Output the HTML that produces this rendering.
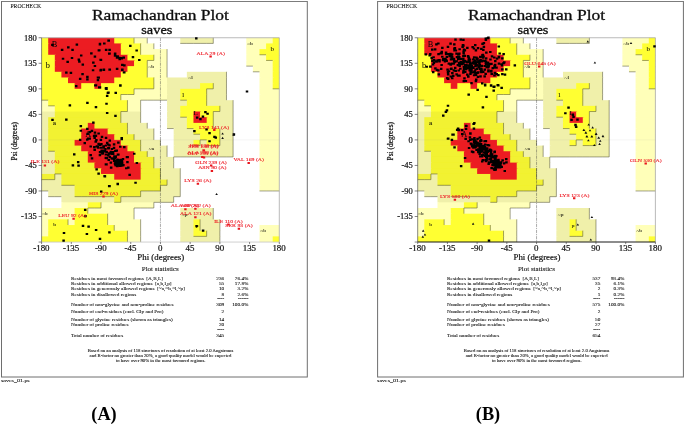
<!DOCTYPE html>
<html lang="en"><head><meta charset="utf-8"><title>Ramachandran Plot</title>
<style>
html,body{margin:0;padding:0;background:#fff}
svg{display:block}
svg text{font-family:"Liberation Serif","DejaVu Serif",serif;fill:#111;white-space:pre;stroke:#111;stroke-width:0.18px}
svg text.r{fill:#ee1c25;stroke:#ee1c25;stroke-width:0.12px}
svg text.g{fill:#0c0c06;stroke:#0c0c06;stroke-width:0.04px}
svg text.s{stroke-width:0.08px}
svg text.t{stroke-width:0.32px}
svg text.big{font-weight:bold;fill:#000;stroke:none}
</style></head><body>
<svg width="685" height="425" viewBox="0 0 685 425">
<rect width="685" height="425" fill="#fff"/>
<defs><filter id="soft" x="0" y="0" width="100%" height="100%"><feGaussianBlur stdDeviation="0.45"/></filter></defs>
<g filter="url(#soft)">
<g transform="translate(0 0)">
<rect x="1.5" y="1.4" width="305.8" height="375.6" fill="#fff" stroke="#6e6e6e" stroke-width="1.0"/>
<text transform="translate(10.4 7.8) scale(1.09 1)" font-size="5.3" class="s">PROCHECK</text>
<text transform="translate(160.4 19.9) scale(1.16 1)" font-size="15.05" text-anchor="middle" class="t">Ramachandran Plot</text>
<text transform="translate(156.8 34.2) scale(1.16 1)" font-size="12.35" text-anchor="middle" class="t">saves</text>
<rect x="41.6" y="37.75" width="7.6" height="6.68" fill="#ffff33"/>
<rect x="48.2" y="37.75" width="67.03" height="6.68" fill="#ec1c24"/>
<rect x="114.23" y="37.75" width="20.81" height="6.68" fill="#ffff33"/>
<rect x="134.04" y="37.75" width="14.21" height="6.68" fill="#ffffb9"/>
<rect x="147.24" y="37.75" width="34.01" height="6.68" fill="#ffffff"/>
<rect x="180.26" y="37.75" width="34.01" height="6.68" fill="#f0f0aa"/>
<rect x="213.27" y="37.75" width="34.01" height="6.68" fill="#ffffff"/>
<rect x="246.29" y="37.75" width="27.41" height="6.68" fill="#ffffb9"/>
<rect x="272.7" y="37.75" width="6.6" height="6.68" fill="#ffff33"/>
<rect x="41.6" y="43.42" width="7.6" height="6.68" fill="#ffff33"/>
<rect x="48.2" y="43.42" width="73.63" height="6.68" fill="#ec1c24"/>
<rect x="120.83" y="43.42" width="20.81" height="6.68" fill="#ffff33"/>
<rect x="140.64" y="43.42" width="14.21" height="6.68" fill="#ffffb9"/>
<rect x="153.85" y="43.42" width="93.44" height="6.68" fill="#ffffff"/>
<rect x="246.29" y="43.42" width="20.81" height="6.68" fill="#ffffb9"/>
<rect x="266.09" y="43.42" width="13.21" height="6.68" fill="#ffff33"/>
<rect x="41.6" y="49.1" width="7.6" height="6.68" fill="#ffff33"/>
<rect x="48.2" y="49.1" width="73.63" height="6.68" fill="#ec1c24"/>
<rect x="120.83" y="49.1" width="20.81" height="6.68" fill="#ffff33"/>
<rect x="140.64" y="49.1" width="27.41" height="6.68" fill="#ffffb9"/>
<rect x="167.05" y="49.1" width="80.23" height="6.68" fill="#ffffff"/>
<rect x="246.29" y="49.1" width="14.21" height="6.68" fill="#ffffb9"/>
<rect x="259.49" y="49.1" width="19.81" height="6.68" fill="#ffff33"/>
<rect x="41.6" y="54.78" width="14.21" height="6.68" fill="#ffff33"/>
<rect x="54.81" y="54.78" width="73.63" height="6.68" fill="#ec1c24"/>
<rect x="127.44" y="54.78" width="27.41" height="6.68" fill="#ffff33"/>
<rect x="153.85" y="54.78" width="14.21" height="6.68" fill="#ffffb9"/>
<rect x="167.05" y="54.78" width="80.23" height="6.68" fill="#ffffff"/>
<rect x="246.29" y="54.78" width="20.81" height="6.68" fill="#ffffb9"/>
<rect x="266.09" y="54.78" width="13.21" height="6.68" fill="#ffff33"/>
<rect x="41.6" y="60.45" width="14.21" height="6.68" fill="#ffff33"/>
<rect x="54.81" y="60.45" width="80.23" height="6.68" fill="#ec1c24"/>
<rect x="134.04" y="60.45" width="14.21" height="6.68" fill="#ffff33"/>
<rect x="147.24" y="60.45" width="20.81" height="6.68" fill="#ffffb9"/>
<rect x="167.05" y="60.45" width="80.23" height="6.68" fill="#ffffff"/>
<rect x="246.29" y="60.45" width="27.41" height="6.68" fill="#ffffb9"/>
<rect x="272.7" y="60.45" width="6.6" height="6.68" fill="#ffff33"/>
<rect x="41.6" y="66.12" width="14.21" height="6.68" fill="#ffff33"/>
<rect x="54.81" y="66.12" width="73.63" height="6.68" fill="#ec1c24"/>
<rect x="127.44" y="66.12" width="20.81" height="6.68" fill="#ffff33"/>
<rect x="147.24" y="66.12" width="20.81" height="6.68" fill="#ffffb9"/>
<rect x="167.05" y="66.12" width="86.84" height="6.68" fill="#ffffff"/>
<rect x="252.89" y="66.12" width="20.81" height="6.68" fill="#ffffb9"/>
<rect x="272.7" y="66.12" width="6.6" height="6.68" fill="#ffff33"/>
<rect x="41.6" y="71.8" width="20.81" height="6.68" fill="#ffff33"/>
<rect x="61.41" y="71.8" width="60.42" height="6.68" fill="#ec1c24"/>
<rect x="120.83" y="71.8" width="27.41" height="6.68" fill="#ffff33"/>
<rect x="147.24" y="71.8" width="20.81" height="6.68" fill="#ffffb9"/>
<rect x="167.05" y="71.8" width="20.81" height="6.68" fill="#ffffff"/>
<rect x="186.86" y="71.8" width="40.62" height="6.68" fill="#f0f0aa"/>
<rect x="226.48" y="71.8" width="34.01" height="6.68" fill="#ffffff"/>
<rect x="259.49" y="71.8" width="14.21" height="6.68" fill="#ffffb9"/>
<rect x="272.7" y="71.8" width="6.6" height="6.68" fill="#ffff33"/>
<rect x="41.6" y="77.48" width="27.41" height="6.68" fill="#ffff33"/>
<rect x="68.01" y="77.48" width="47.22" height="6.68" fill="#ec1c24"/>
<rect x="114.23" y="77.48" width="40.62" height="6.68" fill="#ffff33"/>
<rect x="153.85" y="77.48" width="14.21" height="6.68" fill="#ffffb9"/>
<rect x="167.05" y="77.48" width="60.42" height="6.68" fill="#f0f0aa"/>
<rect x="226.48" y="77.48" width="34.01" height="6.68" fill="#ffffff"/>
<rect x="259.49" y="77.48" width="14.21" height="6.68" fill="#ffffb9"/>
<rect x="272.7" y="77.48" width="6.6" height="6.68" fill="#ffff33"/>
<rect x="41.6" y="83.15" width="34.01" height="6.68" fill="#ffff33"/>
<rect x="74.61" y="83.15" width="7.6" height="6.68" fill="#ec1c24"/>
<rect x="81.22" y="83.15" width="14.21" height="6.68" fill="#ffff33"/>
<rect x="94.42" y="83.15" width="7.6" height="6.68" fill="#ec1c24"/>
<rect x="101.03" y="83.15" width="53.82" height="6.68" fill="#ffff33"/>
<rect x="153.85" y="83.15" width="14.21" height="6.68" fill="#ffffb9"/>
<rect x="167.05" y="83.15" width="34.01" height="6.68" fill="#f0f0aa"/>
<rect x="200.07" y="83.15" width="14.21" height="6.68" fill="#ffff33"/>
<rect x="213.27" y="83.15" width="14.21" height="6.68" fill="#f0f0aa"/>
<rect x="226.48" y="83.15" width="34.01" height="6.68" fill="#ffffff"/>
<rect x="259.49" y="83.15" width="14.21" height="6.68" fill="#ffffb9"/>
<rect x="272.7" y="83.15" width="6.6" height="6.68" fill="#ffff33"/>
<rect x="41.6" y="88.83" width="93.44" height="6.68" fill="#ffff33"/>
<rect x="134.04" y="88.83" width="34.01" height="6.68" fill="#ffffb9"/>
<rect x="167.05" y="88.83" width="14.21" height="6.68" fill="#f0f0aa"/>
<rect x="180.26" y="88.83" width="27.41" height="6.68" fill="#ffff33"/>
<rect x="206.67" y="88.83" width="20.81" height="6.68" fill="#f0f0aa"/>
<rect x="226.48" y="88.83" width="34.01" height="6.68" fill="#ffffff"/>
<rect x="259.49" y="88.83" width="19.81" height="6.68" fill="#ffffb9"/>
<rect x="41.6" y="94.5" width="80.23" height="6.68" fill="#ffff33"/>
<rect x="120.83" y="94.5" width="47.22" height="6.68" fill="#ffffb9"/>
<rect x="167.05" y="94.5" width="14.21" height="6.68" fill="#f0f0aa"/>
<rect x="180.26" y="94.5" width="27.41" height="6.68" fill="#ffff33"/>
<rect x="206.67" y="94.5" width="20.81" height="6.68" fill="#f0f0aa"/>
<rect x="226.48" y="94.5" width="34.01" height="6.68" fill="#ffffff"/>
<rect x="259.49" y="94.5" width="19.81" height="6.68" fill="#ffffb9"/>
<rect x="41.6" y="100.18" width="7.6" height="6.68" fill="#ffffb9"/>
<rect x="48.2" y="100.18" width="80.23" height="6.68" fill="#ffff33"/>
<rect x="127.44" y="100.18" width="14.21" height="6.68" fill="#ffffb9"/>
<rect x="140.64" y="100.18" width="27.41" height="6.68" fill="#ffffff"/>
<rect x="167.05" y="100.18" width="20.81" height="6.68" fill="#f0f0aa"/>
<rect x="186.86" y="100.18" width="20.81" height="6.68" fill="#ffff33"/>
<rect x="206.67" y="100.18" width="27.41" height="6.68" fill="#f0f0aa"/>
<rect x="233.08" y="100.18" width="27.41" height="6.68" fill="#ffffff"/>
<rect x="259.49" y="100.18" width="19.81" height="6.68" fill="#ffffb9"/>
<rect x="41.6" y="105.85" width="14.21" height="6.68" fill="#ffffb9"/>
<rect x="54.81" y="105.85" width="73.63" height="6.68" fill="#ffff33"/>
<rect x="127.44" y="105.85" width="14.21" height="6.68" fill="#ffffb9"/>
<rect x="140.64" y="105.85" width="27.41" height="6.68" fill="#ffffff"/>
<rect x="167.05" y="105.85" width="14.21" height="6.68" fill="#f0f0aa"/>
<rect x="180.26" y="105.85" width="40.62" height="6.68" fill="#ffff33"/>
<rect x="219.88" y="105.85" width="14.21" height="6.68" fill="#f0f0aa"/>
<rect x="233.08" y="105.85" width="27.41" height="6.68" fill="#ffffff"/>
<rect x="259.49" y="105.85" width="19.81" height="6.68" fill="#ffffb9"/>
<rect x="41.6" y="111.53" width="14.21" height="6.68" fill="#f0f0aa"/>
<rect x="54.81" y="111.53" width="67.03" height="6.68" fill="#f2f230"/>
<rect x="120.83" y="111.53" width="20.81" height="6.68" fill="#f0f0aa"/>
<rect x="140.64" y="111.53" width="27.41" height="6.68" fill="#ffffff"/>
<rect x="167.05" y="111.53" width="14.21" height="6.68" fill="#f0f0aa"/>
<rect x="180.26" y="111.53" width="14.21" height="6.68" fill="#ffff33"/>
<rect x="193.46" y="111.53" width="7.6" height="6.68" fill="#ec1c24"/>
<rect x="200.07" y="111.53" width="14.21" height="6.68" fill="#ffff33"/>
<rect x="213.27" y="111.53" width="20.81" height="6.68" fill="#f0f0aa"/>
<rect x="233.08" y="111.53" width="27.41" height="6.68" fill="#ffffff"/>
<rect x="259.49" y="111.53" width="19.81" height="6.68" fill="#ffffb9"/>
<rect x="41.6" y="117.2" width="7.6" height="6.68" fill="#f0f0aa"/>
<rect x="48.2" y="117.2" width="73.63" height="6.68" fill="#f2f230"/>
<rect x="120.83" y="117.2" width="20.81" height="6.68" fill="#f0f0aa"/>
<rect x="140.64" y="117.2" width="27.41" height="6.68" fill="#ffffff"/>
<rect x="167.05" y="117.2" width="20.81" height="6.68" fill="#f0f0aa"/>
<rect x="186.86" y="117.2" width="7.6" height="6.68" fill="#ffff33"/>
<rect x="193.46" y="117.2" width="14.21" height="6.68" fill="#ec1c24"/>
<rect x="206.67" y="117.2" width="7.6" height="6.68" fill="#ffff33"/>
<rect x="213.27" y="117.2" width="20.81" height="6.68" fill="#f0f0aa"/>
<rect x="233.08" y="117.2" width="27.41" height="6.68" fill="#ffffff"/>
<rect x="259.49" y="117.2" width="19.81" height="6.68" fill="#ffffb9"/>
<rect x="41.6" y="122.88" width="7.6" height="6.68" fill="#f0f0aa"/>
<rect x="48.2" y="122.88" width="40.62" height="6.68" fill="#f2f230"/>
<rect x="87.82" y="122.88" width="7.6" height="6.68" fill="#ec1c24"/>
<rect x="94.42" y="122.88" width="34.01" height="6.68" fill="#f2f230"/>
<rect x="127.44" y="122.88" width="20.81" height="6.68" fill="#f0f0aa"/>
<rect x="147.24" y="122.88" width="20.81" height="6.68" fill="#ffffff"/>
<rect x="167.05" y="122.88" width="20.81" height="6.68" fill="#f0f0aa"/>
<rect x="186.86" y="122.88" width="27.41" height="6.68" fill="#ffff33"/>
<rect x="213.27" y="122.88" width="20.81" height="6.68" fill="#f0f0aa"/>
<rect x="233.08" y="122.88" width="27.41" height="6.68" fill="#ffffff"/>
<rect x="259.49" y="122.88" width="19.81" height="6.68" fill="#ffffb9"/>
<rect x="41.6" y="128.55" width="7.6" height="6.68" fill="#f0f0aa"/>
<rect x="48.2" y="128.55" width="34.01" height="6.68" fill="#f2f230"/>
<rect x="81.22" y="128.55" width="27.41" height="6.68" fill="#ec1c24"/>
<rect x="107.63" y="128.55" width="20.81" height="6.68" fill="#f2f230"/>
<rect x="127.44" y="128.55" width="27.41" height="6.68" fill="#f0f0aa"/>
<rect x="153.85" y="128.55" width="20.81" height="6.68" fill="#ffffff"/>
<rect x="173.66" y="128.55" width="20.81" height="6.68" fill="#f0f0aa"/>
<rect x="193.46" y="128.55" width="27.41" height="6.68" fill="#ffff33"/>
<rect x="219.88" y="128.55" width="14.21" height="6.68" fill="#f0f0aa"/>
<rect x="233.08" y="128.55" width="27.41" height="6.68" fill="#ffffff"/>
<rect x="259.49" y="128.55" width="19.81" height="6.68" fill="#ffffb9"/>
<rect x="41.6" y="134.23" width="7.6" height="6.68" fill="#f0f0aa"/>
<rect x="48.2" y="134.23" width="34.01" height="6.68" fill="#f2f230"/>
<rect x="81.22" y="134.23" width="34.01" height="6.68" fill="#ec1c24"/>
<rect x="114.23" y="134.23" width="20.81" height="6.68" fill="#f2f230"/>
<rect x="134.04" y="134.23" width="20.81" height="6.68" fill="#f0f0aa"/>
<rect x="153.85" y="134.23" width="20.81" height="6.68" fill="#ffffff"/>
<rect x="173.66" y="134.23" width="27.41" height="6.68" fill="#f0f0aa"/>
<rect x="200.07" y="134.23" width="20.81" height="6.68" fill="#ffff33"/>
<rect x="219.88" y="134.23" width="14.21" height="6.68" fill="#f0f0aa"/>
<rect x="233.08" y="134.23" width="27.41" height="6.68" fill="#ffffff"/>
<rect x="259.49" y="134.23" width="19.81" height="6.68" fill="#ffffb9"/>
<rect x="41.6" y="139.9" width="7.6" height="6.68" fill="#f0f0aa"/>
<rect x="48.2" y="139.9" width="27.41" height="6.68" fill="#f2f230"/>
<rect x="74.61" y="139.9" width="47.22" height="6.68" fill="#ec1c24"/>
<rect x="120.83" y="139.9" width="20.81" height="6.68" fill="#f2f230"/>
<rect x="140.64" y="139.9" width="20.81" height="6.68" fill="#f0f0aa"/>
<rect x="160.45" y="139.9" width="14.21" height="6.68" fill="#ffffff"/>
<rect x="173.66" y="139.9" width="20.81" height="6.68" fill="#f0f0aa"/>
<rect x="193.46" y="139.9" width="7.6" height="6.68" fill="#ffff33"/>
<rect x="200.07" y="139.9" width="7.6" height="6.68" fill="#f0f0aa"/>
<rect x="206.67" y="139.9" width="14.21" height="6.68" fill="#ffff33"/>
<rect x="219.88" y="139.9" width="14.21" height="6.68" fill="#f0f0aa"/>
<rect x="233.08" y="139.9" width="27.41" height="6.68" fill="#ffffff"/>
<rect x="259.49" y="139.9" width="19.81" height="6.68" fill="#ffffb9"/>
<rect x="41.6" y="145.58" width="7.6" height="6.68" fill="#f0f0aa"/>
<rect x="48.2" y="145.58" width="34.01" height="6.68" fill="#f2f230"/>
<rect x="81.22" y="145.58" width="47.22" height="6.68" fill="#ec1c24"/>
<rect x="127.44" y="145.58" width="14.21" height="6.68" fill="#f2f230"/>
<rect x="140.64" y="145.58" width="27.41" height="6.68" fill="#f0f0aa"/>
<rect x="167.05" y="145.58" width="7.6" height="6.68" fill="#ffffff"/>
<rect x="173.66" y="145.58" width="60.42" height="6.68" fill="#f0f0aa"/>
<rect x="233.08" y="145.58" width="27.41" height="6.68" fill="#ffffff"/>
<rect x="259.49" y="145.58" width="19.81" height="6.68" fill="#ffffb9"/>
<rect x="41.6" y="151.25" width="14.21" height="6.68" fill="#f0f0aa"/>
<rect x="54.81" y="151.25" width="34.01" height="6.68" fill="#f2f230"/>
<rect x="87.82" y="151.25" width="47.22" height="6.68" fill="#ec1c24"/>
<rect x="134.04" y="151.25" width="14.21" height="6.68" fill="#f2f230"/>
<rect x="147.24" y="151.25" width="20.81" height="6.68" fill="#f0f0aa"/>
<rect x="167.05" y="151.25" width="7.6" height="6.68" fill="#ffffff"/>
<rect x="173.66" y="151.25" width="60.42" height="6.68" fill="#f0f0aa"/>
<rect x="233.08" y="151.25" width="27.41" height="6.68" fill="#ffffff"/>
<rect x="259.49" y="151.25" width="19.81" height="6.68" fill="#ffffb9"/>
<rect x="41.6" y="156.93" width="14.21" height="6.68" fill="#f0f0aa"/>
<rect x="54.81" y="156.93" width="34.01" height="6.68" fill="#f2f230"/>
<rect x="87.82" y="156.93" width="47.22" height="6.68" fill="#ec1c24"/>
<rect x="134.04" y="156.93" width="20.81" height="6.68" fill="#f2f230"/>
<rect x="153.85" y="156.93" width="20.81" height="6.68" fill="#f0f0aa"/>
<rect x="173.66" y="156.93" width="86.84" height="6.68" fill="#ffffff"/>
<rect x="259.49" y="156.93" width="19.81" height="6.68" fill="#ffffb9"/>
<rect x="41.6" y="162.6" width="14.21" height="6.68" fill="#f0f0aa"/>
<rect x="54.81" y="162.6" width="40.62" height="6.68" fill="#f2f230"/>
<rect x="94.42" y="162.6" width="47.22" height="6.68" fill="#ec1c24"/>
<rect x="140.64" y="162.6" width="14.21" height="6.68" fill="#f2f230"/>
<rect x="153.85" y="162.6" width="20.81" height="6.68" fill="#f0f0aa"/>
<rect x="173.66" y="162.6" width="86.84" height="6.68" fill="#ffffff"/>
<rect x="259.49" y="162.6" width="19.81" height="6.68" fill="#ffffb9"/>
<rect x="41.6" y="168.28" width="14.21" height="6.68" fill="#f0f0aa"/>
<rect x="54.81" y="168.28" width="47.22" height="6.68" fill="#f2f230"/>
<rect x="101.03" y="168.28" width="40.62" height="6.68" fill="#ec1c24"/>
<rect x="140.64" y="168.28" width="20.81" height="6.68" fill="#f2f230"/>
<rect x="160.45" y="168.28" width="20.81" height="6.68" fill="#f0f0aa"/>
<rect x="180.26" y="168.28" width="80.23" height="6.68" fill="#ffffff"/>
<rect x="259.49" y="168.28" width="19.81" height="6.68" fill="#ffffb9"/>
<rect x="41.6" y="173.95" width="14.21" height="6.68" fill="#f2f230"/>
<rect x="54.81" y="173.95" width="7.6" height="6.68" fill="#f0f0aa"/>
<rect x="61.41" y="173.95" width="53.82" height="6.68" fill="#f2f230"/>
<rect x="114.23" y="173.95" width="27.41" height="6.68" fill="#ec1c24"/>
<rect x="140.64" y="173.95" width="20.81" height="6.68" fill="#f2f230"/>
<rect x="160.45" y="173.95" width="20.81" height="6.68" fill="#f0f0aa"/>
<rect x="180.26" y="173.95" width="80.23" height="6.68" fill="#ffffff"/>
<rect x="259.49" y="173.95" width="19.81" height="6.68" fill="#ffffb9"/>
<rect x="41.6" y="179.63" width="20.81" height="6.68" fill="#f0f0aa"/>
<rect x="61.41" y="179.63" width="106.64" height="6.68" fill="#f2f230"/>
<rect x="167.05" y="179.63" width="14.21" height="6.68" fill="#f0f0aa"/>
<rect x="180.26" y="179.63" width="80.23" height="6.68" fill="#ffffff"/>
<rect x="259.49" y="179.63" width="19.81" height="6.68" fill="#ffffb9"/>
<rect x="41.6" y="185.3" width="34.01" height="6.68" fill="#f0f0aa"/>
<rect x="74.61" y="185.3" width="86.84" height="6.68" fill="#f2f230"/>
<rect x="160.45" y="185.3" width="20.81" height="6.68" fill="#f0f0aa"/>
<rect x="180.26" y="185.3" width="80.23" height="6.68" fill="#ffffff"/>
<rect x="259.49" y="185.3" width="19.81" height="6.68" fill="#ffffb9"/>
<rect x="41.6" y="190.98" width="7.6" height="6.68" fill="#ffffff"/>
<rect x="48.2" y="190.98" width="27.41" height="6.68" fill="#f0f0aa"/>
<rect x="74.61" y="190.98" width="67.03" height="6.68" fill="#f2f230"/>
<rect x="140.64" y="190.98" width="40.62" height="6.68" fill="#f0f0aa"/>
<rect x="180.26" y="190.98" width="99.04" height="6.68" fill="#ffffff"/>
<rect x="41.6" y="196.65" width="20.81" height="6.68" fill="#ffffff"/>
<rect x="61.41" y="196.65" width="53.82" height="6.68" fill="#f0f0aa"/>
<rect x="114.23" y="196.65" width="7.6" height="6.68" fill="#f2f230"/>
<rect x="120.83" y="196.65" width="53.82" height="6.68" fill="#f0f0aa"/>
<rect x="173.66" y="196.65" width="105.64" height="6.68" fill="#ffffff"/>
<rect x="41.6" y="202.33" width="20.81" height="6.68" fill="#ffffff"/>
<rect x="61.41" y="202.33" width="27.41" height="6.68" fill="#ffffb9"/>
<rect x="87.82" y="202.33" width="14.21" height="6.68" fill="#ffff33"/>
<rect x="101.03" y="202.33" width="53.82" height="6.68" fill="#ffffb9"/>
<rect x="153.85" y="202.33" width="125.45" height="6.68" fill="#ffffff"/>
<rect x="41.6" y="208" width="34.01" height="6.68" fill="#ffffb9"/>
<rect x="74.61" y="208" width="14.21" height="6.68" fill="#ffff33"/>
<rect x="87.82" y="208" width="47.22" height="6.68" fill="#ffffb9"/>
<rect x="134.04" y="208" width="47.22" height="6.68" fill="#ffffff"/>
<rect x="180.26" y="208" width="34.01" height="6.68" fill="#f0f0aa"/>
<rect x="213.27" y="208" width="66.03" height="6.68" fill="#ffffff"/>
<rect x="41.6" y="213.68" width="34.01" height="6.68" fill="#ffffb9"/>
<rect x="74.61" y="213.68" width="34.01" height="6.68" fill="#ffff33"/>
<rect x="107.63" y="213.68" width="27.41" height="6.68" fill="#ffffb9"/>
<rect x="134.04" y="213.68" width="47.22" height="6.68" fill="#ffffff"/>
<rect x="180.26" y="213.68" width="34.01" height="6.68" fill="#f0f0aa"/>
<rect x="213.27" y="213.68" width="66.03" height="6.68" fill="#ffffff"/>
<rect x="41.6" y="219.35" width="7.6" height="6.68" fill="#ffffb9"/>
<rect x="48.2" y="219.35" width="20.81" height="6.68" fill="#ffff33"/>
<rect x="68.01" y="219.35" width="7.6" height="6.68" fill="#ffffb9"/>
<rect x="74.61" y="219.35" width="34.01" height="6.68" fill="#ffff33"/>
<rect x="107.63" y="219.35" width="34.01" height="6.68" fill="#ffffb9"/>
<rect x="140.64" y="219.35" width="40.62" height="6.68" fill="#ffffff"/>
<rect x="180.26" y="219.35" width="14.21" height="6.68" fill="#f0f0aa"/>
<rect x="193.46" y="219.35" width="7.6" height="6.68" fill="#ffff33"/>
<rect x="200.07" y="219.35" width="20.81" height="6.68" fill="#f0f0aa"/>
<rect x="219.88" y="219.35" width="59.42" height="6.68" fill="#ffffff"/>
<rect x="41.6" y="225.03" width="7.6" height="6.68" fill="#ffffb9"/>
<rect x="48.2" y="225.03" width="67.03" height="6.68" fill="#ffff33"/>
<rect x="114.23" y="225.03" width="27.41" height="6.68" fill="#ffffb9"/>
<rect x="140.64" y="225.03" width="40.62" height="6.68" fill="#ffffff"/>
<rect x="180.26" y="225.03" width="14.21" height="6.68" fill="#f0f0aa"/>
<rect x="193.46" y="225.03" width="7.6" height="6.68" fill="#ffff33"/>
<rect x="200.07" y="225.03" width="20.81" height="6.68" fill="#f0f0aa"/>
<rect x="219.88" y="225.03" width="40.62" height="6.68" fill="#ffffff"/>
<rect x="259.49" y="225.03" width="19.81" height="6.68" fill="#ffffb9"/>
<rect x="41.6" y="230.7" width="7.6" height="6.68" fill="#ffffb9"/>
<rect x="48.2" y="230.7" width="80.23" height="6.68" fill="#ffff33"/>
<rect x="127.44" y="230.7" width="14.21" height="6.68" fill="#ffffb9"/>
<rect x="140.64" y="230.7" width="40.62" height="6.68" fill="#ffffff"/>
<rect x="180.26" y="230.7" width="14.21" height="6.68" fill="#f0f0aa"/>
<rect x="193.46" y="230.7" width="14.21" height="6.68" fill="#ffff33"/>
<rect x="206.67" y="230.7" width="14.21" height="6.68" fill="#f0f0aa"/>
<rect x="219.88" y="230.7" width="40.62" height="6.68" fill="#ffffff"/>
<rect x="259.49" y="230.7" width="19.81" height="6.68" fill="#ffffb9"/>
<rect x="41.6" y="236.38" width="86.84" height="5.68" fill="#ffff33"/>
<rect x="127.44" y="236.38" width="14.21" height="5.68" fill="#ffffb9"/>
<rect x="140.64" y="236.38" width="40.62" height="5.68" fill="#ffffff"/>
<rect x="180.26" y="236.38" width="40.62" height="5.68" fill="#f0f0aa"/>
<rect x="219.88" y="236.38" width="40.62" height="5.68" fill="#ffffff"/>
<rect x="259.49" y="236.38" width="14.21" height="5.68" fill="#ffffb9"/>
<rect x="272.7" y="236.38" width="6.6" height="5.68" fill="#ffff33"/>
<path d="M134.04 37.75v5.68M147.24 37.75v5.68M213.27 37.75v5.68M140.64 43.42v5.68M153.85 43.42v5.68M140.64 49.1v5.68M167.05 49.1v5.68M153.85 54.78v5.68M167.05 54.78v5.68M147.24 60.45v5.68M167.05 60.45v5.68M147.24 66.12v5.68M167.05 66.12v5.68M147.24 71.8v5.68M167.05 71.8v5.68M226.48 71.8v5.68M153.85 77.48v5.68M226.48 77.48v5.68M153.85 83.15v5.68M213.27 83.15v5.68M226.48 83.15v5.68M134.04 88.83v5.68M206.67 88.83v5.68M226.48 88.83v5.68M120.83 94.5v5.68M206.67 94.5v5.68M226.48 94.5v5.68M127.44 100.18v5.68M140.64 100.18v5.68M206.67 100.18v5.68M233.08 100.18v5.68M127.44 105.85v5.68M140.64 105.85v5.68M219.88 105.85v5.68M233.08 105.85v5.68M120.83 111.53v5.68M140.64 111.53v5.68M213.27 111.53v5.68M233.08 111.53v5.68M120.83 117.2v5.68M140.64 117.2v5.68M213.27 117.2v5.68M233.08 117.2v5.68M127.44 122.88v5.68M147.24 122.88v5.68M213.27 122.88v5.68M233.08 122.88v5.68M127.44 128.55v5.68M153.85 128.55v5.68M219.88 128.55v5.68M233.08 128.55v5.68M134.04 134.23v5.68M153.85 134.23v5.68M219.88 134.23v5.68M233.08 134.23v5.68M140.64 139.9v5.68M160.45 139.9v5.68M200.07 139.9v5.68M219.88 139.9v5.68M233.08 139.9v5.68M140.64 145.58v5.68M167.05 145.58v5.68M233.08 145.58v5.68M147.24 151.25v5.68M167.05 151.25v5.68M233.08 151.25v5.68M153.85 156.93v5.68M173.66 156.93v5.68M153.85 162.6v5.68M173.66 162.6v5.68M160.45 168.28v5.68M180.26 168.28v5.68M54.81 173.95v5.68M160.45 173.95v5.68M180.26 173.95v5.68M167.05 179.63v5.68M180.26 179.63v5.68M160.45 185.3v5.68M180.26 185.3v5.68M140.64 190.98v5.68M180.26 190.98v5.68M120.83 196.65v5.68M173.66 196.65v5.68M101.03 202.33v5.68M153.85 202.33v5.68M87.82 208v5.68M134.04 208v5.68M213.27 208v5.68M107.63 213.68v5.68M134.04 213.68v5.68M213.27 213.68v5.68M68.01 219.35v5.68M107.63 219.35v5.68M140.64 219.35v5.68M200.07 219.35v5.68M219.88 219.35v5.68M114.23 225.03v5.68M140.64 225.03v5.68M200.07 225.03v5.68M219.88 225.03v5.68M127.44 230.7v5.68M140.64 230.7v5.68M206.67 230.7v5.68M219.88 230.7v5.68M127.44 236.38v5.68M140.64 236.38v5.68M219.88 236.38v5.68M180.26 43.42h6.6M186.86 43.42h6.6M193.46 43.42h6.6M200.07 43.42h6.6M206.67 43.42h6.6M259.49 54.78h6.6M147.24 60.45h6.6M266.09 60.45h6.6M246.29 66.12h6.6M252.89 71.8h6.6M134.04 88.83h6.6M140.64 88.83h6.6M147.24 88.83h6.6M206.67 88.83h6.6M272.7 88.83h6.6M120.83 94.5h6.6M127.44 94.5h6.6M41.6 100.18h6.6M140.64 100.18h6.6M147.24 100.18h6.6M153.85 100.18h6.6M160.45 100.18h6.6M180.26 100.18h6.6M48.2 105.85h6.6M120.83 111.53h6.6M213.27 111.53h6.6M180.26 117.2h6.6M167.05 128.55h6.6M186.86 128.55h6.6M193.46 134.23h6.6M200.07 139.9h6.6M193.46 145.58h6.6M206.67 145.58h6.6M213.27 145.58h6.6M48.2 151.25h6.6M173.66 156.93h6.6M180.26 156.93h6.6M186.86 156.93h6.6M193.46 156.93h6.6M200.07 156.93h6.6M206.67 156.93h6.6M213.27 156.93h6.6M219.88 156.93h6.6M226.48 156.93h6.6M54.81 173.95h6.6M41.6 179.63h6.6M48.2 179.63h6.6M61.41 185.3h6.6M68.01 185.3h6.6M160.45 185.3h6.6M41.6 190.98h6.6M140.64 190.98h6.6M147.24 190.98h6.6M153.85 190.98h6.6M259.49 190.98h6.6M266.09 190.98h6.6M272.7 190.98h6.6M48.2 196.65h6.6M54.81 196.65h6.6M74.61 196.65h6.6M81.22 196.65h6.6M87.82 196.65h6.6M94.42 196.65h6.6M101.03 196.65h6.6M107.63 196.65h6.6M120.83 196.65h6.6M127.44 196.65h6.6M134.04 196.65h6.6M173.66 196.65h6.6M114.23 202.33h6.6M153.85 202.33h6.6M160.45 202.33h6.6M167.05 202.33h6.6M87.82 208h6.6M94.42 208h6.6M134.04 208h6.6M140.64 208h6.6M147.24 208h6.6M193.46 236.38h6.6M200.07 236.38h6.6" stroke="#4a4a30" stroke-width="0.7" fill="none" opacity="0.75"/>
<path d="M41.6 139.9H279.3" stroke="#999" stroke-width="0.35" fill="none" opacity="0.3"/>
<path d="M160.45 37.75V242.05" stroke="#3a3a3a" stroke-width="0.5" stroke-dasharray="3.2 0.9 1.2 0.9" fill="none" opacity="0.85"/>
<path d="M41.6 37.75H279.3V242.05" stroke="#a8a8a8" stroke-width="0.8" fill="none"/>
<path d="M41.6 37.75V242.05" stroke="#555" stroke-width="0.7" fill="none"/>
<path d="M41.6 242.05H279.3" stroke="#c4c4c4" stroke-width="0.8" fill="none"/>
<path d="M41.6 242.05v2M41.6 242.05h-3M71.31 242.05v2M41.6 216.51h-3M101.03 242.05v2M41.6 190.98h-3M130.74 242.05v2M41.6 165.44h-3M160.45 242.05v2M41.6 139.9h-3M190.16 242.05v2M41.6 114.36h-3M219.88 242.05v2M41.6 88.83h-3M249.59 242.05v2M41.6 63.29h-3M279.3 242.05v2M41.6 37.75h-3" stroke="#333" stroke-width="0.6" fill="none"/>
<text transform="translate(41.4 250.5) scale(1.16 1)" font-size="7.7" text-anchor="middle">-180</text>
<text transform="translate(71.11 250.5) scale(1.16 1)" font-size="7.7" text-anchor="middle">-135</text>
<text transform="translate(100.83 250.5) scale(1.16 1)" font-size="7.7" text-anchor="middle">-90</text>
<text transform="translate(130.54 250.5) scale(1.16 1)" font-size="7.7" text-anchor="middle">-45</text>
<text transform="translate(160.25 250.5) scale(1.16 1)" font-size="7.7" text-anchor="middle">0</text>
<text transform="translate(189.96 250.5) scale(1.16 1)" font-size="7.7" text-anchor="middle">45</text>
<text transform="translate(219.68 250.5) scale(1.16 1)" font-size="7.7" text-anchor="middle">90</text>
<text transform="translate(249.39 250.5) scale(1.16 1)" font-size="7.7" text-anchor="middle">135</text>
<text transform="translate(279.1 250.5) scale(1.16 1)" font-size="7.7" text-anchor="middle">180</text>
<text transform="translate(36.7 219.31) scale(1.16 1)" font-size="7.35" text-anchor="end">-135</text>
<text transform="translate(36.7 193.78) scale(1.16 1)" font-size="7.35" text-anchor="end">-90</text>
<text transform="translate(36.7 168.24) scale(1.16 1)" font-size="7.35" text-anchor="end">-45</text>
<text transform="translate(36.7 142.7) scale(1.16 1)" font-size="7.35" text-anchor="end">0</text>
<text transform="translate(36.7 117.16) scale(1.16 1)" font-size="7.35" text-anchor="end">45</text>
<text transform="translate(36.7 91.62) scale(1.16 1)" font-size="7.35" text-anchor="end">90</text>
<text transform="translate(36.7 66.09) scale(1.16 1)" font-size="7.35" text-anchor="end">135</text>
<text transform="translate(36.7 40.55) scale(1.16 1)" font-size="7.35" text-anchor="end">180</text>
<text transform="translate(54.5 46.56) scale(1.16 1)" font-size="7.2" text-anchor="middle" class="g">B</text>
<text transform="translate(47.9 68.16) scale(1.16 1)" font-size="7.2" text-anchor="middle" class="g">b</text>
<text transform="translate(54.5 124.92) scale(1.16 1)" font-size="6.4" text-anchor="middle" class="g">a</text>
<text transform="translate(88.2 136.76) scale(1.16 1)" font-size="7.2" text-anchor="middle" class="g">A</text>
<text transform="translate(151.4 149.98) scale(1.16 1)" font-size="4.6" text-anchor="middle" class="g"><tspan dy="1.29">~</tspan><tspan dy="-1.29">a</tspan></text>
<text transform="translate(151.2 67.74) scale(1.16 1)" font-size="4.8" text-anchor="middle" class="g"><tspan dy="1.34">~</tspan><tspan dy="-1.34">b</tspan></text>
<text transform="translate(190.6 78.94) scale(1.16 1)" font-size="4.8" text-anchor="middle" class="g"><tspan dy="1.34">~</tspan><tspan dy="-1.34">l</tspan></text>
<text transform="translate(183.3 96.74) scale(1.16 1)" font-size="5.8" text-anchor="middle" class="g">l</text>
<text transform="translate(195.6 115.4) scale(1.16 1)" font-size="6" text-anchor="middle" class="g">L</text>
<text transform="translate(250 45.04) scale(1.16 1)" font-size="4.8" text-anchor="middle" class="g"><tspan dy="1.34">~</tspan><tspan dy="-1.34">b</tspan></text>
<text transform="translate(272.2 51.4) scale(1.16 1)" font-size="6" text-anchor="middle" class="g">b</text>
<text transform="translate(44.9 214.92) scale(1.16 1)" font-size="4.4" text-anchor="middle" class="g"><tspan dy="1.23">~</tspan><tspan dy="-1.23">b</tspan></text>
<text transform="translate(54.6 226.24) scale(1.16 1)" font-size="4.8" text-anchor="middle" class="g">b</text>
<text transform="translate(263.1 232.18) scale(1.16 1)" font-size="4.6" text-anchor="middle" class="g"><tspan dy="1.29">~</tspan><tspan dy="-1.29">b</tspan></text>
<text transform="translate(197.1 227.44) scale(1.16 1)" font-size="4.8" text-anchor="middle" class="g">p</text>
<text transform="translate(184.6 215.64) scale(1.16 1)" font-size="4.8" text-anchor="middle" class="g"><tspan dy="1.34">~</tspan><tspan dy="-1.34">p</tspan></text>
<path d="M75.62 43.44h2.5v2.2h-2.5zM67.05 46.34h2.5v2.2h-2.5zM60.86 48.71h2.5v2.2h-2.5zM71.27 48.71h2.5v2.2h-2.5zM98.67 43.18h2.5v2.2h-2.5zM103.02 42.39h2.5v2.2h-2.5zM107.5 39.49h2.5v2.2h-2.5zM97.62 49.24h2.5v2.2h-2.5zM104.87 48.71h2.5v2.2h-2.5zM108.29 48.71h2.5v2.2h-2.5zM90.11 52.27h2.5v2.2h-2.5zM108.29 52.4h2.5v2.2h-2.5zM79.96 54.38h2.5v2.2h-2.5zM93.67 55.56h2.5v2.2h-2.5zM61.78 57.67h2.5v2.2h-2.5zM70.74 56.88h2.5v2.2h-2.5zM66.39 60.83h2.5v2.2h-2.5zM77.59 58.59h2.5v2.2h-2.5zM78.12 60.57h2.5v2.2h-2.5zM99.73 58.72h2.5v2.2h-2.5zM81.55 63.47h2.5v2.2h-2.5zM92.09 61.62h2.5v2.2h-2.5zM93.67 64.92h2.5v2.2h-2.5zM91.82 69.13h2.5v2.2h-2.5zM99.73 68.74h2.5v2.2h-2.5zM102.63 68.47h2.5v2.2h-2.5zM108.56 68.47h2.5v2.2h-2.5zM115.8 67.81h2.5v2.2h-2.5zM65.08 71.5h2.5v2.2h-2.5zM69.69 71.77h2.5v2.2h-2.5zM81.28 73.08h2.5v2.2h-2.5zM78.91 77.7h2.5v2.2h-2.5zM86.16 78.35h2.5v2.2h-2.5zM86.16 75.72h2.5v2.2h-2.5zM96.7 76.38h2.5v2.2h-2.5zM96.7 79.01h2.5v2.2h-2.5zM74.96 84.94h2.5v2.2h-2.5zM94.06 84.28h2.5v2.2h-2.5zM98.01 86.26h2.5v2.2h-2.5zM105.26 86.92h2.5v2.2h-2.5zM119.1 84.28h2.5v2.2h-2.5zM123.05 71.37h2.5v2.2h-2.5zM121.07 68.74h2.5v2.2h-2.5zM121.07 63.86h2.5v2.2h-2.5zM123.05 64.26h2.5v2.2h-2.5zM113.83 52.66h2.5v2.2h-2.5zM115.8 56.62h2.5v2.2h-2.5zM118.44 57.93h2.5v2.2h-2.5zM122.39 56.62h2.5v2.2h-2.5zM113.83 54.64h2.5v2.2h-2.5zM116.46 55.3h2.5v2.2h-2.5zM119.75 56.88h2.5v2.2h-2.5zM107.3 39.5h2.5v2.2h-2.5zM98.73 42.79h2.5v2.2h-2.5zM103.08 42.4h2.5v2.2h-2.5zM98.07 49.13h2.5v2.2h-2.5zM104.93 48.73h2.5v2.2h-2.5zM108.36 48.73h2.5v2.2h-2.5zM129.07 44.77h2.5v2.2h-2.5zM135.4 49.39h2.5v2.2h-2.5zM107.96 52.43h2.5v2.2h-2.5zM113.9 52.43h2.5v2.2h-2.5zM131.71 55.99h2.5v2.2h-2.5zM138.04 58.89h2.5v2.2h-2.5zM99.39 58.63h2.5v2.2h-2.5zM115.88 55.33h2.5v2.2h-2.5zM117.86 56.65h2.5v2.2h-2.5zM120.5 57.31h2.5v2.2h-2.5zM122.48 56.65h2.5v2.2h-2.5zM121.16 63.9h2.5v2.2h-2.5zM123.14 64.3h2.5v2.2h-2.5zM99.39 69.18h2.5v2.2h-2.5zM102.69 68.78h2.5v2.2h-2.5zM108.36 68.52h2.5v2.2h-2.5zM115.88 67.86h2.5v2.2h-2.5zM121.16 68.52h2.5v2.2h-2.5zM122.74 71.42h2.5v2.2h-2.5zM119.18 84.35h2.5v2.2h-2.5zM97.41 76.44h2.5v2.2h-2.5zM98.73 86.33h2.5v2.2h-2.5zM104.67 87.25h2.5v2.2h-2.5zM86.16 101.74h2.5v2.2h-2.5zM68.63 104.24h2.5v2.2h-2.5zM105.26 102.66h2.5v2.2h-2.5zM94.72 106.09h2.5v2.2h-2.5zM105.92 111.89h2.5v2.2h-2.5zM114.22 114.78h2.5v2.2h-2.5zM51.24 118.74h2.5v2.2h-2.5zM65.08 118.47h2.5v2.2h-2.5zM92.09 121.5h2.5v2.2h-2.5zM79.57 125.06h2.5v2.2h-2.5zM79.57 129.67h2.5v2.2h-2.5zM74.96 84.88h2.5v2.2h-2.5zM94.72 84.22h2.5v2.2h-2.5zM98.67 86.19h2.5v2.2h-2.5zM105.26 87.91h2.5v2.2h-2.5zM107.24 91.46h2.5v2.2h-2.5zM114.48 91.86h2.5v2.2h-2.5zM105.92 94.76h2.5v2.2h-2.5zM119.1 84.48h2.5v2.2h-2.5zM106.64 91.87h2.5v2.2h-2.5zM120.5 136.99h2.5v2.2h-2.5zM72.98 153.32h2.5v2.2h-2.5zM76.93 160.96h2.5v2.2h-2.5zM71.66 164.26h2.5v2.2h-2.5zM77.33 164.52h2.5v2.2h-2.5zM95.38 168.21h2.5v2.2h-2.5zM97.36 172.43h2.5v2.2h-2.5zM103.68 175.32h2.5v2.2h-2.5zM108.29 184.94h2.5v2.2h-2.5zM116.46 182.7h2.5v2.2h-2.5zM78.91 138.83h2.5v2.2h-2.5zM83.52 142.12h2.5v2.2h-2.5zM89.45 145.42h2.5v2.2h-2.5zM89.45 153.98h2.5v2.2h-2.5zM90.77 157.27h2.5v2.2h-2.5zM93.4 148.71h2.5v2.2h-2.5zM97.36 142.78h2.5v2.2h-2.5zM101.31 152.66h2.5v2.2h-2.5zM98.67 153.98h2.5v2.2h-2.5zM105.26 163.2h2.5v2.2h-2.5zM109.87 166.5h2.5v2.2h-2.5zM108.56 139.49h2.5v2.2h-2.5zM117.12 141.46h2.5v2.2h-2.5zM120.41 137.51h2.5v2.2h-2.5zM123.05 146.08h2.5v2.2h-2.5zM125.68 155.96h2.5v2.2h-2.5zM125.02 167.16h2.5v2.2h-2.5zM120.47 138.17h2.5v2.2h-2.5zM132.98 152.66h2.5v2.2h-2.5zM135.62 161.89h2.5v2.2h-2.5zM128.37 173.74h2.5v2.2h-2.5zM134.3 181.65h2.5v2.2h-2.5zM116.51 182.97h2.5v2.2h-2.5zM107.95 184.94h2.5v2.2h-2.5zM103.34 175.06h2.5v2.2h-2.5zM126.39 155.96h2.5v2.2h-2.5zM127.05 166.5h2.5v2.2h-2.5zM104.66 163.2h2.5v2.2h-2.5zM109.93 166.5h2.5v2.2h-2.5zM51.15 43.8h2.5v2.2h-2.5zM195.05 37.3h2.5v2.2h-2.5zM245.75 90.4h2.5v2.2h-2.5zM195.35 225.1h2.5v2.2h-2.5zM201.85 229.5h2.5v2.2h-2.5zM99.95 190.5h2.5v2.2h-2.5zM83.95 208.7h2.5v2.2h-2.5zM84.25 215h2.5v2.2h-2.5zM81.75 224.7h2.5v2.2h-2.5zM87.35 225.5h2.5v2.2h-2.5zM94.85 228.9h2.5v2.2h-2.5zM85.65 232.9h2.5v2.2h-2.5zM62.75 231.9h2.5v2.2h-2.5zM62.35 239.5h2.5v2.2h-2.5zM98.75 237.7h2.5v2.2h-2.5zM108.15 231.2h2.5v2.2h-2.5zM204.16 111.02h2.5v2.2h-2.5zM206.3 112.66h2.5v2.2h-2.5zM201.69 115.46h2.5v2.2h-2.5zM195.93 116.45h2.5v2.2h-2.5zM199.22 118.1h2.5v2.2h-2.5zM193.13 129.96h2.5v2.2h-2.5zM205.31 128.31h2.5v2.2h-2.5zM208.28 131.94h2.5v2.2h-2.5zM213.22 135.72h2.5v2.2h-2.5zM214.54 136.55h2.5v2.2h-2.5zM208.28 140.17h2.5v2.2h-2.5zM232.66 133.25h2.5v2.2h-2.5zM116.96 162.76h2.5v2.2h-2.5zM117.03 161.08h2.5v2.2h-2.5zM115.41 160.74h2.5v2.2h-2.5zM120.11 163.63h2.5v2.2h-2.5zM119.93 163.21h2.5v2.2h-2.5zM118.46 162.59h2.5v2.2h-2.5zM113.72 162.38h2.5v2.2h-2.5zM118.71 163.32h2.5v2.2h-2.5zM113.66 157h2.5v2.2h-2.5zM115.5 160.25h2.5v2.2h-2.5zM118.25 162.04h2.5v2.2h-2.5zM118.75 160.98h2.5v2.2h-2.5zM118.26 162.95h2.5v2.2h-2.5zM116.03 164.93h2.5v2.2h-2.5zM118.83 164.8h2.5v2.2h-2.5zM116.12 159.9h2.5v2.2h-2.5zM116.76 161.42h2.5v2.2h-2.5zM119 162.9h2.5v2.2h-2.5zM116.52 159.58h2.5v2.2h-2.5zM116.35 164.02h2.5v2.2h-2.5zM115.69 161.78h2.5v2.2h-2.5zM118.53 159.16h2.5v2.2h-2.5zM117.66 164.63h2.5v2.2h-2.5zM112.92 159.69h2.5v2.2h-2.5zM117.31 160.13h2.5v2.2h-2.5zM118.69 162.15h2.5v2.2h-2.5zM114.18 162.48h2.5v2.2h-2.5zM119.09 164.36h2.5v2.2h-2.5zM120.86 163.76h2.5v2.2h-2.5zM117.82 159.31h2.5v2.2h-2.5zM118.97 161.11h2.5v2.2h-2.5zM116.51 158.94h2.5v2.2h-2.5zM115.32 160.06h2.5v2.2h-2.5zM120.51 158.71h2.5v2.2h-2.5zM114.2 161.27h2.5v2.2h-2.5zM120.87 164.2h2.5v2.2h-2.5zM113.18 155.25h2.5v2.2h-2.5zM118.37 160.66h2.5v2.2h-2.5zM114.97 163.05h2.5v2.2h-2.5zM120.08 163.07h2.5v2.2h-2.5zM118.12 162.98h2.5v2.2h-2.5zM121.22 164.4h2.5v2.2h-2.5zM118.74 163.43h2.5v2.2h-2.5zM113.94 163.33h2.5v2.2h-2.5zM119.75 163.73h2.5v2.2h-2.5zM113.01 159.07h2.5v2.2h-2.5zM119.49 158.82h2.5v2.2h-2.5zM117.13 163.86h2.5v2.2h-2.5zM114.53 164.21h2.5v2.2h-2.5zM118.82 162.02h2.5v2.2h-2.5zM118.3 163.49h2.5v2.2h-2.5zM117.83 164.35h2.5v2.2h-2.5zM116.03 160.54h2.5v2.2h-2.5zM119.95 162.76h2.5v2.2h-2.5zM115.52 163.17h2.5v2.2h-2.5zM120.92 162.11h2.5v2.2h-2.5zM114.38 160.56h2.5v2.2h-2.5zM117.21 161.17h2.5v2.2h-2.5zM120.78 160.87h2.5v2.2h-2.5zM120.45 160.26h2.5v2.2h-2.5zM115.74 162.6h2.5v2.2h-2.5zM120.15 164.54h2.5v2.2h-2.5zM118.34 162.46h2.5v2.2h-2.5zM117.9 163.2h2.5v2.2h-2.5zM117.14 162.34h2.5v2.2h-2.5zM118.87 162.34h2.5v2.2h-2.5zM119.31 163.65h2.5v2.2h-2.5zM122.17 164.12h2.5v2.2h-2.5zM116.57 160.8h2.5v2.2h-2.5zM117.52 163.79h2.5v2.2h-2.5zM116.78 162.44h2.5v2.2h-2.5zM121.78 158.03h2.5v2.2h-2.5zM114.97 161.54h2.5v2.2h-2.5zM118.47 162.7h2.5v2.2h-2.5zM116.56 162.92h2.5v2.2h-2.5zM107.21 147.1h2.5v2.2h-2.5zM119.73 163.63h2.5v2.2h-2.5zM100.16 143.03h2.5v2.2h-2.5zM102.35 145.26h2.5v2.2h-2.5zM86.06 127.85h2.5v2.2h-2.5zM114.12 149.77h2.5v2.2h-2.5zM100.57 149.42h2.5v2.2h-2.5zM105.5 157.02h2.5v2.2h-2.5zM92.86 134.87h2.5v2.2h-2.5zM99.59 146.63h2.5v2.2h-2.5zM119.01 145.63h2.5v2.2h-2.5zM115.48 149.43h2.5v2.2h-2.5zM112.77 146.68h2.5v2.2h-2.5zM101.58 151.72h2.5v2.2h-2.5zM102.16 146.53h2.5v2.2h-2.5zM108.92 152.46h2.5v2.2h-2.5zM98.77 151.07h2.5v2.2h-2.5zM111.92 152.73h2.5v2.2h-2.5zM126.21 161.01h2.5v2.2h-2.5zM110.9 151.96h2.5v2.2h-2.5zM102.67 149.93h2.5v2.2h-2.5zM103.49 150.3h2.5v2.2h-2.5zM97.36 132.41h2.5v2.2h-2.5zM110.79 147.88h2.5v2.2h-2.5zM100.75 135.75h2.5v2.2h-2.5zM110.48 157.35h2.5v2.2h-2.5zM116.72 153.48h2.5v2.2h-2.5zM107 143.38h2.5v2.2h-2.5zM104.59 156.74h2.5v2.2h-2.5zM93.09 146h2.5v2.2h-2.5zM111.16 152.7h2.5v2.2h-2.5zM85.96 138.57h2.5v2.2h-2.5zM104.79 144.42h2.5v2.2h-2.5zM105.38 150.74h2.5v2.2h-2.5zM117.13 153.38h2.5v2.2h-2.5zM107.47 158.81h2.5v2.2h-2.5zM114.42 155.68h2.5v2.2h-2.5zM95.65 145.26h2.5v2.2h-2.5zM104.2 148.02h2.5v2.2h-2.5zM114.46 155.25h2.5v2.2h-2.5zM88.79 130.93h2.5v2.2h-2.5zM88.46 137.51h2.5v2.2h-2.5zM107.7 147.05h2.5v2.2h-2.5zM101.32 149.41h2.5v2.2h-2.5zM100.53 151.51h2.5v2.2h-2.5zM100.36 149.72h2.5v2.2h-2.5zM109.6 161.47h2.5v2.2h-2.5zM96.55 145.3h2.5v2.2h-2.5zM93.71 131.49h2.5v2.2h-2.5zM86.99 137.58h2.5v2.2h-2.5zM95.17 138.94h2.5v2.2h-2.5zM102.49 145.58h2.5v2.2h-2.5zM98.95 143.82h2.5v2.2h-2.5zM116.15 158.56h2.5v2.2h-2.5zM104.62 153.41h2.5v2.2h-2.5zM105.95 141.73h2.5v2.2h-2.5zM96.81 146.65h2.5v2.2h-2.5zM93.94 134.46h2.5v2.2h-2.5zM108.54 155.83h2.5v2.2h-2.5zM101.51 149.44h2.5v2.2h-2.5zM108.26 144.32h2.5v2.2h-2.5zM94.63 134.87h2.5v2.2h-2.5zM111.81 151.09h2.5v2.2h-2.5zM99.63 138.71h2.5v2.2h-2.5zM93.37 136.69h2.5v2.2h-2.5zM94.47 140.44h2.5v2.2h-2.5zM86.32 132.73h2.5v2.2h-2.5zM104.79 136.77h2.5v2.2h-2.5zM109.6 150.71h2.5v2.2h-2.5zM90.65 129.85h2.5v2.2h-2.5zM107.09 147.35h2.5v2.2h-2.5zM107.08 154.23h2.5v2.2h-2.5zM107.48 152.19h2.5v2.2h-2.5zM111.2 157.52h2.5v2.2h-2.5zM112.83 143.36h2.5v2.2h-2.5z" fill="#000"/>
<path d="M233.7 133.6l1.3 2.1h-2.6zM222.6 132.4l1.3 2.1h-2.6zM222.6 136.8l1.3 2.1h-2.6zM216.6 193l1.3 2.1h-2.6z" fill="#111"/>
<path d="M209.4 55.5h2.4v2h-2.4zM213.1 129h2.4v2h-2.4zM202.4 149.2h2.4v2h-2.4zM202.7 149.6h2.4v2h-2.4zM201.1 156h2.4v2h-2.4zM202.8 156.4h2.4v2h-2.4zM210 164.6h2.4v2h-2.4zM210.7 170.1h2.4v2h-2.4zM247.5 161.9h2.4v2h-2.4zM196.7 182.8h2.4v2h-2.4zM43.7 164.6h2.4v2h-2.4zM102.3 195.6h2.4v2h-2.4zM72.4 217.7h2.4v2h-2.4zM184.2 208.3h2.4v2h-2.4zM194.2 207.7h2.4v2h-2.4zM194.2 216.2h2.4v2h-2.4zM227.2 223.5h2.4v2h-2.4zM237.7 227.8h2.4v2h-2.4z" fill="#e8141e"/>
<text transform="translate(210.7 54.7) scale(1.16 1)" font-size="5" text-anchor="middle" class="r">ALA 29 (A)</text>
<text transform="translate(214.1 128.7) scale(1.16 1)" font-size="5" text-anchor="middle" class="r">LYS 141 (A)</text>
<text transform="translate(204.2 147.2) scale(1.16 1)" font-size="5" text-anchor="middle" class="r">HIS 130 (A)</text>
<text transform="translate(203.3 148) scale(1.16 1)" font-size="5" text-anchor="middle" class="r">SER 136 (A)</text>
<text transform="translate(202.8 153.8) scale(1.16 1)" font-size="5" text-anchor="middle" class="r">ALA 290 (A)</text>
<text transform="translate(202.8 154.5) scale(1.16 1)" font-size="5" text-anchor="middle" class="r">GLY 291 (A)</text>
<text transform="translate(211 163.6) scale(1.16 1)" font-size="5" text-anchor="middle" class="r">GLN 239 (A)</text>
<text transform="translate(212.3 169.1) scale(1.16 1)" font-size="5" text-anchor="middle" class="r">ASN 90 (A)</text>
<text transform="translate(248.7 161) scale(1.16 1)" font-size="5" text-anchor="middle" class="r">VAL 169 (A)</text>
<text transform="translate(197.9 181.6) scale(1.16 1)" font-size="5" text-anchor="middle" class="r">LYS 26 (A)</text>
<text transform="translate(45 163.2) scale(1.16 1)" font-size="5" text-anchor="middle" class="r">ILE 131 (A)</text>
<text transform="translate(103.5 195) scale(1.16 1)" font-size="5" text-anchor="middle" class="r">HIS 279 (A)</text>
<text transform="translate(72.2 217.4) scale(1.16 1)" font-size="5" text-anchor="middle" class="r">LEU 92 (A)</text>
<text transform="translate(185 207.1) scale(1.16 1)" font-size="5" text-anchor="middle" class="r">ALA 68 (A)</text>
<text transform="translate(195.6 207.1) scale(1.16 1)" font-size="5" text-anchor="middle" class="r">ASP 262 (A)</text>
<text transform="translate(195.7 215.2) scale(1.16 1)" font-size="5" text-anchor="middle" class="r">ALA 121 (A)</text>
<text transform="translate(228.4 222.5) scale(1.16 1)" font-size="5" text-anchor="middle" class="r">ILE 110 (A)</text>
<text transform="translate(239 226.8) scale(1.16 1)" font-size="5" text-anchor="middle" class="r">SER 93 (A)</text>
<text transform="translate(16.9 141.2) scale(1.16 1) rotate(-90)" font-size="7.43" text-anchor="middle">Psi (degrees)</text>
<text transform="translate(160.8 260.3) scale(1.16 1)" font-size="7.63" text-anchor="middle">Phi (degrees)</text>
<text transform="translate(160.3 270.5) scale(1.16 1)" font-size="6.03" text-anchor="middle" class="s">Plot statistics</text>
<text transform="translate(71 280.1) scale(1.16 1)" font-size="4.55" class="s">Residues in most favoured regions  [A,B,L]</text>
<text transform="translate(224.2 280.1) scale(1.16 1)" font-size="4.55" text-anchor="end" class="s">236</text>
<text transform="translate(248.4 280.1) scale(1.16 1)" font-size="4.55" text-anchor="end" class="s">76.4%</text>
<text transform="translate(71 285.2) scale(1.16 1)" font-size="4.55" class="s">Residues in additional allowed regions  [a,b,l,p]</text>
<text transform="translate(224.2 285.2) scale(1.16 1)" font-size="4.55" text-anchor="end" class="s">55</text>
<text transform="translate(248.4 285.2) scale(1.16 1)" font-size="4.55" text-anchor="end" class="s">17.8%</text>
<text transform="translate(71 290.4) scale(1.16 1)" font-size="4.55" class="s">Residues in generously allowed regions  [~a,~b,~l,~p]</text>
<text transform="translate(224.2 290.4) scale(1.16 1)" font-size="4.55" text-anchor="end" class="s">10</text>
<text transform="translate(248.4 290.4) scale(1.16 1)" font-size="4.55" text-anchor="end" class="s">3.2%</text>
<text transform="translate(71 295.5) scale(1.16 1)" font-size="4.55" class="s">Residues in disallowed regions</text>
<text transform="translate(224.2 295.5) scale(1.16 1)" font-size="4.55" text-anchor="end" class="s">8</text>
<text transform="translate(248.4 295.5) scale(1.16 1)" font-size="4.55" text-anchor="end" class="s">2.6%</text>
<text transform="translate(224.2 299.6) scale(1.16 1)" font-size="4.55" text-anchor="end" class="s">----</text>
<text transform="translate(248.4 299.6) scale(1.16 1)" font-size="4.55" text-anchor="end" class="s">------</text>
<text transform="translate(71 306) scale(1.16 1)" font-size="4.55" class="s">Number of non-glycine and non-proline residues</text>
<text transform="translate(224.2 306) scale(1.16 1)" font-size="4.55" text-anchor="end" class="s">309</text>
<text transform="translate(248.4 306) scale(1.16 1)" font-size="4.55" text-anchor="end" class="s">100.0%</text>
<text transform="translate(71 313.1) scale(1.16 1)" font-size="4.55" class="s">Number of end-residues (excl. Gly and Pro)</text>
<text transform="translate(224.2 313.1) scale(1.16 1)" font-size="4.55" text-anchor="end" class="s">2</text>
<text transform="translate(71 320.8) scale(1.16 1)" font-size="4.55" class="s">Number of glycine residues (shown as triangles)</text>
<text transform="translate(224.2 320.8) scale(1.16 1)" font-size="4.55" text-anchor="end" class="s">14</text>
<text transform="translate(71 326) scale(1.16 1)" font-size="4.55" class="s">Number of proline residues</text>
<text transform="translate(224.2 326) scale(1.16 1)" font-size="4.55" text-anchor="end" class="s">20</text>
<text transform="translate(224.2 330.6) scale(1.16 1)" font-size="4.55" text-anchor="end" class="s">----</text>
<text transform="translate(71 336.6) scale(1.16 1)" font-size="4.55" class="s">Total number of residues</text>
<text transform="translate(224.2 336.6) scale(1.16 1)" font-size="4.55" text-anchor="end" class="s">345</text>
<text transform="translate(160.5 352.2) scale(1.16 1)" font-size="4.08" text-anchor="middle" class="s">Based on an analysis of 118 structures of resolution of at least 2.0 Angstroms</text>
<text transform="translate(160.5 357) scale(1.16 1)" font-size="4.08" text-anchor="middle" class="s">and R-factor no greater than 20%, a good quality model would be expected</text>
<text transform="translate(160.7 361.9) scale(1.16 1)" font-size="4.08" text-anchor="middle" class="s">to have over 90% in the most favoured regions.</text>
<text transform="translate(1 381.9) scale(1.3 1)" font-size="4.6" class="s">saves_01.ps</text>
</g>
<g transform="translate(376.1 0)">
<rect x="1.5" y="1.4" width="305.8" height="375.6" fill="#fff" stroke="#6e6e6e" stroke-width="1.0"/>
<text transform="translate(10.4 7.8) scale(1.09 1)" font-size="5.3" class="s">PROCHECK</text>
<text transform="translate(160.4 19.9) scale(1.16 1)" font-size="15.05" text-anchor="middle" class="t">Ramachandran Plot</text>
<text transform="translate(156.8 34.2) scale(1.16 1)" font-size="12.35" text-anchor="middle" class="t">saves</text>
<rect x="41.6" y="37.75" width="7.6" height="6.68" fill="#ffff33"/>
<rect x="48.2" y="37.75" width="67.03" height="6.68" fill="#ec1c24"/>
<rect x="114.23" y="37.75" width="20.81" height="6.68" fill="#ffff33"/>
<rect x="134.04" y="37.75" width="14.21" height="6.68" fill="#ffffb9"/>
<rect x="147.24" y="37.75" width="34.01" height="6.68" fill="#ffffff"/>
<rect x="180.26" y="37.75" width="34.01" height="6.68" fill="#f0f0aa"/>
<rect x="213.27" y="37.75" width="34.01" height="6.68" fill="#ffffff"/>
<rect x="246.29" y="37.75" width="27.41" height="6.68" fill="#ffffb9"/>
<rect x="272.7" y="37.75" width="6.6" height="6.68" fill="#ffff33"/>
<rect x="41.6" y="43.42" width="7.6" height="6.68" fill="#ffff33"/>
<rect x="48.2" y="43.42" width="73.63" height="6.68" fill="#ec1c24"/>
<rect x="120.83" y="43.42" width="20.81" height="6.68" fill="#ffff33"/>
<rect x="140.64" y="43.42" width="14.21" height="6.68" fill="#ffffb9"/>
<rect x="153.85" y="43.42" width="93.44" height="6.68" fill="#ffffff"/>
<rect x="246.29" y="43.42" width="20.81" height="6.68" fill="#ffffb9"/>
<rect x="266.09" y="43.42" width="13.21" height="6.68" fill="#ffff33"/>
<rect x="41.6" y="49.1" width="7.6" height="6.68" fill="#ffff33"/>
<rect x="48.2" y="49.1" width="73.63" height="6.68" fill="#ec1c24"/>
<rect x="120.83" y="49.1" width="20.81" height="6.68" fill="#ffff33"/>
<rect x="140.64" y="49.1" width="27.41" height="6.68" fill="#ffffb9"/>
<rect x="167.05" y="49.1" width="80.23" height="6.68" fill="#ffffff"/>
<rect x="246.29" y="49.1" width="14.21" height="6.68" fill="#ffffb9"/>
<rect x="259.49" y="49.1" width="19.81" height="6.68" fill="#ffff33"/>
<rect x="41.6" y="54.78" width="14.21" height="6.68" fill="#ffff33"/>
<rect x="54.81" y="54.78" width="73.63" height="6.68" fill="#ec1c24"/>
<rect x="127.44" y="54.78" width="27.41" height="6.68" fill="#ffff33"/>
<rect x="153.85" y="54.78" width="14.21" height="6.68" fill="#ffffb9"/>
<rect x="167.05" y="54.78" width="80.23" height="6.68" fill="#ffffff"/>
<rect x="246.29" y="54.78" width="20.81" height="6.68" fill="#ffffb9"/>
<rect x="266.09" y="54.78" width="13.21" height="6.68" fill="#ffff33"/>
<rect x="41.6" y="60.45" width="14.21" height="6.68" fill="#ffff33"/>
<rect x="54.81" y="60.45" width="80.23" height="6.68" fill="#ec1c24"/>
<rect x="134.04" y="60.45" width="14.21" height="6.68" fill="#ffff33"/>
<rect x="147.24" y="60.45" width="20.81" height="6.68" fill="#ffffb9"/>
<rect x="167.05" y="60.45" width="80.23" height="6.68" fill="#ffffff"/>
<rect x="246.29" y="60.45" width="27.41" height="6.68" fill="#ffffb9"/>
<rect x="272.7" y="60.45" width="6.6" height="6.68" fill="#ffff33"/>
<rect x="41.6" y="66.12" width="14.21" height="6.68" fill="#ffff33"/>
<rect x="54.81" y="66.12" width="73.63" height="6.68" fill="#ec1c24"/>
<rect x="127.44" y="66.12" width="20.81" height="6.68" fill="#ffff33"/>
<rect x="147.24" y="66.12" width="20.81" height="6.68" fill="#ffffb9"/>
<rect x="167.05" y="66.12" width="86.84" height="6.68" fill="#ffffff"/>
<rect x="252.89" y="66.12" width="20.81" height="6.68" fill="#ffffb9"/>
<rect x="272.7" y="66.12" width="6.6" height="6.68" fill="#ffff33"/>
<rect x="41.6" y="71.8" width="20.81" height="6.68" fill="#ffff33"/>
<rect x="61.41" y="71.8" width="60.42" height="6.68" fill="#ec1c24"/>
<rect x="120.83" y="71.8" width="27.41" height="6.68" fill="#ffff33"/>
<rect x="147.24" y="71.8" width="20.81" height="6.68" fill="#ffffb9"/>
<rect x="167.05" y="71.8" width="20.81" height="6.68" fill="#ffffff"/>
<rect x="186.86" y="71.8" width="40.62" height="6.68" fill="#f0f0aa"/>
<rect x="226.48" y="71.8" width="34.01" height="6.68" fill="#ffffff"/>
<rect x="259.49" y="71.8" width="14.21" height="6.68" fill="#ffffb9"/>
<rect x="272.7" y="71.8" width="6.6" height="6.68" fill="#ffff33"/>
<rect x="41.6" y="77.48" width="27.41" height="6.68" fill="#ffff33"/>
<rect x="68.01" y="77.48" width="47.22" height="6.68" fill="#ec1c24"/>
<rect x="114.23" y="77.48" width="40.62" height="6.68" fill="#ffff33"/>
<rect x="153.85" y="77.48" width="14.21" height="6.68" fill="#ffffb9"/>
<rect x="167.05" y="77.48" width="60.42" height="6.68" fill="#f0f0aa"/>
<rect x="226.48" y="77.48" width="34.01" height="6.68" fill="#ffffff"/>
<rect x="259.49" y="77.48" width="14.21" height="6.68" fill="#ffffb9"/>
<rect x="272.7" y="77.48" width="6.6" height="6.68" fill="#ffff33"/>
<rect x="41.6" y="83.15" width="34.01" height="6.68" fill="#ffff33"/>
<rect x="74.61" y="83.15" width="7.6" height="6.68" fill="#ec1c24"/>
<rect x="81.22" y="83.15" width="14.21" height="6.68" fill="#ffff33"/>
<rect x="94.42" y="83.15" width="7.6" height="6.68" fill="#ec1c24"/>
<rect x="101.03" y="83.15" width="53.82" height="6.68" fill="#ffff33"/>
<rect x="153.85" y="83.15" width="14.21" height="6.68" fill="#ffffb9"/>
<rect x="167.05" y="83.15" width="34.01" height="6.68" fill="#f0f0aa"/>
<rect x="200.07" y="83.15" width="14.21" height="6.68" fill="#ffff33"/>
<rect x="213.27" y="83.15" width="14.21" height="6.68" fill="#f0f0aa"/>
<rect x="226.48" y="83.15" width="34.01" height="6.68" fill="#ffffff"/>
<rect x="259.49" y="83.15" width="14.21" height="6.68" fill="#ffffb9"/>
<rect x="272.7" y="83.15" width="6.6" height="6.68" fill="#ffff33"/>
<rect x="41.6" y="88.83" width="93.44" height="6.68" fill="#ffff33"/>
<rect x="134.04" y="88.83" width="34.01" height="6.68" fill="#ffffb9"/>
<rect x="167.05" y="88.83" width="14.21" height="6.68" fill="#f0f0aa"/>
<rect x="180.26" y="88.83" width="27.41" height="6.68" fill="#ffff33"/>
<rect x="206.67" y="88.83" width="20.81" height="6.68" fill="#f0f0aa"/>
<rect x="226.48" y="88.83" width="34.01" height="6.68" fill="#ffffff"/>
<rect x="259.49" y="88.83" width="19.81" height="6.68" fill="#ffffb9"/>
<rect x="41.6" y="94.5" width="80.23" height="6.68" fill="#ffff33"/>
<rect x="120.83" y="94.5" width="47.22" height="6.68" fill="#ffffb9"/>
<rect x="167.05" y="94.5" width="14.21" height="6.68" fill="#f0f0aa"/>
<rect x="180.26" y="94.5" width="27.41" height="6.68" fill="#ffff33"/>
<rect x="206.67" y="94.5" width="20.81" height="6.68" fill="#f0f0aa"/>
<rect x="226.48" y="94.5" width="34.01" height="6.68" fill="#ffffff"/>
<rect x="259.49" y="94.5" width="19.81" height="6.68" fill="#ffffb9"/>
<rect x="41.6" y="100.18" width="7.6" height="6.68" fill="#ffffb9"/>
<rect x="48.2" y="100.18" width="80.23" height="6.68" fill="#ffff33"/>
<rect x="127.44" y="100.18" width="14.21" height="6.68" fill="#ffffb9"/>
<rect x="140.64" y="100.18" width="27.41" height="6.68" fill="#ffffff"/>
<rect x="167.05" y="100.18" width="20.81" height="6.68" fill="#f0f0aa"/>
<rect x="186.86" y="100.18" width="20.81" height="6.68" fill="#ffff33"/>
<rect x="206.67" y="100.18" width="27.41" height="6.68" fill="#f0f0aa"/>
<rect x="233.08" y="100.18" width="27.41" height="6.68" fill="#ffffff"/>
<rect x="259.49" y="100.18" width="19.81" height="6.68" fill="#ffffb9"/>
<rect x="41.6" y="105.85" width="14.21" height="6.68" fill="#ffffb9"/>
<rect x="54.81" y="105.85" width="73.63" height="6.68" fill="#ffff33"/>
<rect x="127.44" y="105.85" width="14.21" height="6.68" fill="#ffffb9"/>
<rect x="140.64" y="105.85" width="27.41" height="6.68" fill="#ffffff"/>
<rect x="167.05" y="105.85" width="14.21" height="6.68" fill="#f0f0aa"/>
<rect x="180.26" y="105.85" width="40.62" height="6.68" fill="#ffff33"/>
<rect x="219.88" y="105.85" width="14.21" height="6.68" fill="#f0f0aa"/>
<rect x="233.08" y="105.85" width="27.41" height="6.68" fill="#ffffff"/>
<rect x="259.49" y="105.85" width="19.81" height="6.68" fill="#ffffb9"/>
<rect x="41.6" y="111.53" width="14.21" height="6.68" fill="#f0f0aa"/>
<rect x="54.81" y="111.53" width="67.03" height="6.68" fill="#f2f230"/>
<rect x="120.83" y="111.53" width="20.81" height="6.68" fill="#f0f0aa"/>
<rect x="140.64" y="111.53" width="27.41" height="6.68" fill="#ffffff"/>
<rect x="167.05" y="111.53" width="14.21" height="6.68" fill="#f0f0aa"/>
<rect x="180.26" y="111.53" width="14.21" height="6.68" fill="#ffff33"/>
<rect x="193.46" y="111.53" width="7.6" height="6.68" fill="#ec1c24"/>
<rect x="200.07" y="111.53" width="14.21" height="6.68" fill="#ffff33"/>
<rect x="213.27" y="111.53" width="20.81" height="6.68" fill="#f0f0aa"/>
<rect x="233.08" y="111.53" width="27.41" height="6.68" fill="#ffffff"/>
<rect x="259.49" y="111.53" width="19.81" height="6.68" fill="#ffffb9"/>
<rect x="41.6" y="117.2" width="7.6" height="6.68" fill="#f0f0aa"/>
<rect x="48.2" y="117.2" width="73.63" height="6.68" fill="#f2f230"/>
<rect x="120.83" y="117.2" width="20.81" height="6.68" fill="#f0f0aa"/>
<rect x="140.64" y="117.2" width="27.41" height="6.68" fill="#ffffff"/>
<rect x="167.05" y="117.2" width="20.81" height="6.68" fill="#f0f0aa"/>
<rect x="186.86" y="117.2" width="7.6" height="6.68" fill="#ffff33"/>
<rect x="193.46" y="117.2" width="14.21" height="6.68" fill="#ec1c24"/>
<rect x="206.67" y="117.2" width="7.6" height="6.68" fill="#ffff33"/>
<rect x="213.27" y="117.2" width="20.81" height="6.68" fill="#f0f0aa"/>
<rect x="233.08" y="117.2" width="27.41" height="6.68" fill="#ffffff"/>
<rect x="259.49" y="117.2" width="19.81" height="6.68" fill="#ffffb9"/>
<rect x="41.6" y="122.88" width="7.6" height="6.68" fill="#f0f0aa"/>
<rect x="48.2" y="122.88" width="40.62" height="6.68" fill="#f2f230"/>
<rect x="87.82" y="122.88" width="7.6" height="6.68" fill="#ec1c24"/>
<rect x="94.42" y="122.88" width="34.01" height="6.68" fill="#f2f230"/>
<rect x="127.44" y="122.88" width="20.81" height="6.68" fill="#f0f0aa"/>
<rect x="147.24" y="122.88" width="20.81" height="6.68" fill="#ffffff"/>
<rect x="167.05" y="122.88" width="20.81" height="6.68" fill="#f0f0aa"/>
<rect x="186.86" y="122.88" width="27.41" height="6.68" fill="#ffff33"/>
<rect x="213.27" y="122.88" width="20.81" height="6.68" fill="#f0f0aa"/>
<rect x="233.08" y="122.88" width="27.41" height="6.68" fill="#ffffff"/>
<rect x="259.49" y="122.88" width="19.81" height="6.68" fill="#ffffb9"/>
<rect x="41.6" y="128.55" width="7.6" height="6.68" fill="#f0f0aa"/>
<rect x="48.2" y="128.55" width="34.01" height="6.68" fill="#f2f230"/>
<rect x="81.22" y="128.55" width="27.41" height="6.68" fill="#ec1c24"/>
<rect x="107.63" y="128.55" width="20.81" height="6.68" fill="#f2f230"/>
<rect x="127.44" y="128.55" width="27.41" height="6.68" fill="#f0f0aa"/>
<rect x="153.85" y="128.55" width="20.81" height="6.68" fill="#ffffff"/>
<rect x="173.66" y="128.55" width="20.81" height="6.68" fill="#f0f0aa"/>
<rect x="193.46" y="128.55" width="27.41" height="6.68" fill="#ffff33"/>
<rect x="219.88" y="128.55" width="14.21" height="6.68" fill="#f0f0aa"/>
<rect x="233.08" y="128.55" width="27.41" height="6.68" fill="#ffffff"/>
<rect x="259.49" y="128.55" width="19.81" height="6.68" fill="#ffffb9"/>
<rect x="41.6" y="134.23" width="7.6" height="6.68" fill="#f0f0aa"/>
<rect x="48.2" y="134.23" width="34.01" height="6.68" fill="#f2f230"/>
<rect x="81.22" y="134.23" width="34.01" height="6.68" fill="#ec1c24"/>
<rect x="114.23" y="134.23" width="20.81" height="6.68" fill="#f2f230"/>
<rect x="134.04" y="134.23" width="20.81" height="6.68" fill="#f0f0aa"/>
<rect x="153.85" y="134.23" width="20.81" height="6.68" fill="#ffffff"/>
<rect x="173.66" y="134.23" width="27.41" height="6.68" fill="#f0f0aa"/>
<rect x="200.07" y="134.23" width="20.81" height="6.68" fill="#ffff33"/>
<rect x="219.88" y="134.23" width="14.21" height="6.68" fill="#f0f0aa"/>
<rect x="233.08" y="134.23" width="27.41" height="6.68" fill="#ffffff"/>
<rect x="259.49" y="134.23" width="19.81" height="6.68" fill="#ffffb9"/>
<rect x="41.6" y="139.9" width="7.6" height="6.68" fill="#f0f0aa"/>
<rect x="48.2" y="139.9" width="27.41" height="6.68" fill="#f2f230"/>
<rect x="74.61" y="139.9" width="47.22" height="6.68" fill="#ec1c24"/>
<rect x="120.83" y="139.9" width="20.81" height="6.68" fill="#f2f230"/>
<rect x="140.64" y="139.9" width="20.81" height="6.68" fill="#f0f0aa"/>
<rect x="160.45" y="139.9" width="14.21" height="6.68" fill="#ffffff"/>
<rect x="173.66" y="139.9" width="20.81" height="6.68" fill="#f0f0aa"/>
<rect x="193.46" y="139.9" width="7.6" height="6.68" fill="#ffff33"/>
<rect x="200.07" y="139.9" width="7.6" height="6.68" fill="#f0f0aa"/>
<rect x="206.67" y="139.9" width="14.21" height="6.68" fill="#ffff33"/>
<rect x="219.88" y="139.9" width="14.21" height="6.68" fill="#f0f0aa"/>
<rect x="233.08" y="139.9" width="27.41" height="6.68" fill="#ffffff"/>
<rect x="259.49" y="139.9" width="19.81" height="6.68" fill="#ffffb9"/>
<rect x="41.6" y="145.58" width="7.6" height="6.68" fill="#f0f0aa"/>
<rect x="48.2" y="145.58" width="34.01" height="6.68" fill="#f2f230"/>
<rect x="81.22" y="145.58" width="47.22" height="6.68" fill="#ec1c24"/>
<rect x="127.44" y="145.58" width="14.21" height="6.68" fill="#f2f230"/>
<rect x="140.64" y="145.58" width="27.41" height="6.68" fill="#f0f0aa"/>
<rect x="167.05" y="145.58" width="7.6" height="6.68" fill="#ffffff"/>
<rect x="173.66" y="145.58" width="60.42" height="6.68" fill="#f0f0aa"/>
<rect x="233.08" y="145.58" width="27.41" height="6.68" fill="#ffffff"/>
<rect x="259.49" y="145.58" width="19.81" height="6.68" fill="#ffffb9"/>
<rect x="41.6" y="151.25" width="14.21" height="6.68" fill="#f0f0aa"/>
<rect x="54.81" y="151.25" width="34.01" height="6.68" fill="#f2f230"/>
<rect x="87.82" y="151.25" width="47.22" height="6.68" fill="#ec1c24"/>
<rect x="134.04" y="151.25" width="14.21" height="6.68" fill="#f2f230"/>
<rect x="147.24" y="151.25" width="20.81" height="6.68" fill="#f0f0aa"/>
<rect x="167.05" y="151.25" width="7.6" height="6.68" fill="#ffffff"/>
<rect x="173.66" y="151.25" width="60.42" height="6.68" fill="#f0f0aa"/>
<rect x="233.08" y="151.25" width="27.41" height="6.68" fill="#ffffff"/>
<rect x="259.49" y="151.25" width="19.81" height="6.68" fill="#ffffb9"/>
<rect x="41.6" y="156.93" width="14.21" height="6.68" fill="#f0f0aa"/>
<rect x="54.81" y="156.93" width="34.01" height="6.68" fill="#f2f230"/>
<rect x="87.82" y="156.93" width="47.22" height="6.68" fill="#ec1c24"/>
<rect x="134.04" y="156.93" width="20.81" height="6.68" fill="#f2f230"/>
<rect x="153.85" y="156.93" width="20.81" height="6.68" fill="#f0f0aa"/>
<rect x="173.66" y="156.93" width="86.84" height="6.68" fill="#ffffff"/>
<rect x="259.49" y="156.93" width="19.81" height="6.68" fill="#ffffb9"/>
<rect x="41.6" y="162.6" width="14.21" height="6.68" fill="#f0f0aa"/>
<rect x="54.81" y="162.6" width="40.62" height="6.68" fill="#f2f230"/>
<rect x="94.42" y="162.6" width="47.22" height="6.68" fill="#ec1c24"/>
<rect x="140.64" y="162.6" width="14.21" height="6.68" fill="#f2f230"/>
<rect x="153.85" y="162.6" width="20.81" height="6.68" fill="#f0f0aa"/>
<rect x="173.66" y="162.6" width="86.84" height="6.68" fill="#ffffff"/>
<rect x="259.49" y="162.6" width="19.81" height="6.68" fill="#ffffb9"/>
<rect x="41.6" y="168.28" width="14.21" height="6.68" fill="#f0f0aa"/>
<rect x="54.81" y="168.28" width="47.22" height="6.68" fill="#f2f230"/>
<rect x="101.03" y="168.28" width="40.62" height="6.68" fill="#ec1c24"/>
<rect x="140.64" y="168.28" width="20.81" height="6.68" fill="#f2f230"/>
<rect x="160.45" y="168.28" width="20.81" height="6.68" fill="#f0f0aa"/>
<rect x="180.26" y="168.28" width="80.23" height="6.68" fill="#ffffff"/>
<rect x="259.49" y="168.28" width="19.81" height="6.68" fill="#ffffb9"/>
<rect x="41.6" y="173.95" width="14.21" height="6.68" fill="#f2f230"/>
<rect x="54.81" y="173.95" width="7.6" height="6.68" fill="#f0f0aa"/>
<rect x="61.41" y="173.95" width="53.82" height="6.68" fill="#f2f230"/>
<rect x="114.23" y="173.95" width="27.41" height="6.68" fill="#ec1c24"/>
<rect x="140.64" y="173.95" width="20.81" height="6.68" fill="#f2f230"/>
<rect x="160.45" y="173.95" width="20.81" height="6.68" fill="#f0f0aa"/>
<rect x="180.26" y="173.95" width="80.23" height="6.68" fill="#ffffff"/>
<rect x="259.49" y="173.95" width="19.81" height="6.68" fill="#ffffb9"/>
<rect x="41.6" y="179.63" width="20.81" height="6.68" fill="#f0f0aa"/>
<rect x="61.41" y="179.63" width="106.64" height="6.68" fill="#f2f230"/>
<rect x="167.05" y="179.63" width="14.21" height="6.68" fill="#f0f0aa"/>
<rect x="180.26" y="179.63" width="80.23" height="6.68" fill="#ffffff"/>
<rect x="259.49" y="179.63" width="19.81" height="6.68" fill="#ffffb9"/>
<rect x="41.6" y="185.3" width="34.01" height="6.68" fill="#f0f0aa"/>
<rect x="74.61" y="185.3" width="86.84" height="6.68" fill="#f2f230"/>
<rect x="160.45" y="185.3" width="20.81" height="6.68" fill="#f0f0aa"/>
<rect x="180.26" y="185.3" width="80.23" height="6.68" fill="#ffffff"/>
<rect x="259.49" y="185.3" width="19.81" height="6.68" fill="#ffffb9"/>
<rect x="41.6" y="190.98" width="7.6" height="6.68" fill="#ffffff"/>
<rect x="48.2" y="190.98" width="27.41" height="6.68" fill="#f0f0aa"/>
<rect x="74.61" y="190.98" width="67.03" height="6.68" fill="#f2f230"/>
<rect x="140.64" y="190.98" width="40.62" height="6.68" fill="#f0f0aa"/>
<rect x="180.26" y="190.98" width="99.04" height="6.68" fill="#ffffff"/>
<rect x="41.6" y="196.65" width="20.81" height="6.68" fill="#ffffff"/>
<rect x="61.41" y="196.65" width="53.82" height="6.68" fill="#f0f0aa"/>
<rect x="114.23" y="196.65" width="7.6" height="6.68" fill="#f2f230"/>
<rect x="120.83" y="196.65" width="53.82" height="6.68" fill="#f0f0aa"/>
<rect x="173.66" y="196.65" width="105.64" height="6.68" fill="#ffffff"/>
<rect x="41.6" y="202.33" width="20.81" height="6.68" fill="#ffffff"/>
<rect x="61.41" y="202.33" width="27.41" height="6.68" fill="#ffffb9"/>
<rect x="87.82" y="202.33" width="14.21" height="6.68" fill="#ffff33"/>
<rect x="101.03" y="202.33" width="53.82" height="6.68" fill="#ffffb9"/>
<rect x="153.85" y="202.33" width="125.45" height="6.68" fill="#ffffff"/>
<rect x="41.6" y="208" width="34.01" height="6.68" fill="#ffffb9"/>
<rect x="74.61" y="208" width="14.21" height="6.68" fill="#ffff33"/>
<rect x="87.82" y="208" width="47.22" height="6.68" fill="#ffffb9"/>
<rect x="134.04" y="208" width="47.22" height="6.68" fill="#ffffff"/>
<rect x="180.26" y="208" width="34.01" height="6.68" fill="#f0f0aa"/>
<rect x="213.27" y="208" width="66.03" height="6.68" fill="#ffffff"/>
<rect x="41.6" y="213.68" width="34.01" height="6.68" fill="#ffffb9"/>
<rect x="74.61" y="213.68" width="34.01" height="6.68" fill="#ffff33"/>
<rect x="107.63" y="213.68" width="27.41" height="6.68" fill="#ffffb9"/>
<rect x="134.04" y="213.68" width="47.22" height="6.68" fill="#ffffff"/>
<rect x="180.26" y="213.68" width="34.01" height="6.68" fill="#f0f0aa"/>
<rect x="213.27" y="213.68" width="66.03" height="6.68" fill="#ffffff"/>
<rect x="41.6" y="219.35" width="7.6" height="6.68" fill="#ffffb9"/>
<rect x="48.2" y="219.35" width="20.81" height="6.68" fill="#ffff33"/>
<rect x="68.01" y="219.35" width="7.6" height="6.68" fill="#ffffb9"/>
<rect x="74.61" y="219.35" width="34.01" height="6.68" fill="#ffff33"/>
<rect x="107.63" y="219.35" width="34.01" height="6.68" fill="#ffffb9"/>
<rect x="140.64" y="219.35" width="40.62" height="6.68" fill="#ffffff"/>
<rect x="180.26" y="219.35" width="14.21" height="6.68" fill="#f0f0aa"/>
<rect x="193.46" y="219.35" width="7.6" height="6.68" fill="#ffff33"/>
<rect x="200.07" y="219.35" width="20.81" height="6.68" fill="#f0f0aa"/>
<rect x="219.88" y="219.35" width="59.42" height="6.68" fill="#ffffff"/>
<rect x="41.6" y="225.03" width="7.6" height="6.68" fill="#ffffb9"/>
<rect x="48.2" y="225.03" width="67.03" height="6.68" fill="#ffff33"/>
<rect x="114.23" y="225.03" width="27.41" height="6.68" fill="#ffffb9"/>
<rect x="140.64" y="225.03" width="40.62" height="6.68" fill="#ffffff"/>
<rect x="180.26" y="225.03" width="14.21" height="6.68" fill="#f0f0aa"/>
<rect x="193.46" y="225.03" width="7.6" height="6.68" fill="#ffff33"/>
<rect x="200.07" y="225.03" width="20.81" height="6.68" fill="#f0f0aa"/>
<rect x="219.88" y="225.03" width="40.62" height="6.68" fill="#ffffff"/>
<rect x="259.49" y="225.03" width="19.81" height="6.68" fill="#ffffb9"/>
<rect x="41.6" y="230.7" width="7.6" height="6.68" fill="#ffffb9"/>
<rect x="48.2" y="230.7" width="80.23" height="6.68" fill="#ffff33"/>
<rect x="127.44" y="230.7" width="14.21" height="6.68" fill="#ffffb9"/>
<rect x="140.64" y="230.7" width="40.62" height="6.68" fill="#ffffff"/>
<rect x="180.26" y="230.7" width="14.21" height="6.68" fill="#f0f0aa"/>
<rect x="193.46" y="230.7" width="14.21" height="6.68" fill="#ffff33"/>
<rect x="206.67" y="230.7" width="14.21" height="6.68" fill="#f0f0aa"/>
<rect x="219.88" y="230.7" width="40.62" height="6.68" fill="#ffffff"/>
<rect x="259.49" y="230.7" width="19.81" height="6.68" fill="#ffffb9"/>
<rect x="41.6" y="236.38" width="86.84" height="5.68" fill="#ffff33"/>
<rect x="127.44" y="236.38" width="14.21" height="5.68" fill="#ffffb9"/>
<rect x="140.64" y="236.38" width="40.62" height="5.68" fill="#ffffff"/>
<rect x="180.26" y="236.38" width="40.62" height="5.68" fill="#f0f0aa"/>
<rect x="219.88" y="236.38" width="40.62" height="5.68" fill="#ffffff"/>
<rect x="259.49" y="236.38" width="14.21" height="5.68" fill="#ffffb9"/>
<rect x="272.7" y="236.38" width="6.6" height="5.68" fill="#ffff33"/>
<path d="M134.04 37.75v5.68M147.24 37.75v5.68M213.27 37.75v5.68M140.64 43.42v5.68M153.85 43.42v5.68M140.64 49.1v5.68M167.05 49.1v5.68M153.85 54.78v5.68M167.05 54.78v5.68M147.24 60.45v5.68M167.05 60.45v5.68M147.24 66.12v5.68M167.05 66.12v5.68M147.24 71.8v5.68M167.05 71.8v5.68M226.48 71.8v5.68M153.85 77.48v5.68M226.48 77.48v5.68M153.85 83.15v5.68M213.27 83.15v5.68M226.48 83.15v5.68M134.04 88.83v5.68M206.67 88.83v5.68M226.48 88.83v5.68M120.83 94.5v5.68M206.67 94.5v5.68M226.48 94.5v5.68M127.44 100.18v5.68M140.64 100.18v5.68M206.67 100.18v5.68M233.08 100.18v5.68M127.44 105.85v5.68M140.64 105.85v5.68M219.88 105.85v5.68M233.08 105.85v5.68M120.83 111.53v5.68M140.64 111.53v5.68M213.27 111.53v5.68M233.08 111.53v5.68M120.83 117.2v5.68M140.64 117.2v5.68M213.27 117.2v5.68M233.08 117.2v5.68M127.44 122.88v5.68M147.24 122.88v5.68M213.27 122.88v5.68M233.08 122.88v5.68M127.44 128.55v5.68M153.85 128.55v5.68M219.88 128.55v5.68M233.08 128.55v5.68M134.04 134.23v5.68M153.85 134.23v5.68M219.88 134.23v5.68M233.08 134.23v5.68M140.64 139.9v5.68M160.45 139.9v5.68M200.07 139.9v5.68M219.88 139.9v5.68M233.08 139.9v5.68M140.64 145.58v5.68M167.05 145.58v5.68M233.08 145.58v5.68M147.24 151.25v5.68M167.05 151.25v5.68M233.08 151.25v5.68M153.85 156.93v5.68M173.66 156.93v5.68M153.85 162.6v5.68M173.66 162.6v5.68M160.45 168.28v5.68M180.26 168.28v5.68M54.81 173.95v5.68M160.45 173.95v5.68M180.26 173.95v5.68M167.05 179.63v5.68M180.26 179.63v5.68M160.45 185.3v5.68M180.26 185.3v5.68M140.64 190.98v5.68M180.26 190.98v5.68M120.83 196.65v5.68M173.66 196.65v5.68M101.03 202.33v5.68M153.85 202.33v5.68M87.82 208v5.68M134.04 208v5.68M213.27 208v5.68M107.63 213.68v5.68M134.04 213.68v5.68M213.27 213.68v5.68M68.01 219.35v5.68M107.63 219.35v5.68M140.64 219.35v5.68M200.07 219.35v5.68M219.88 219.35v5.68M114.23 225.03v5.68M140.64 225.03v5.68M200.07 225.03v5.68M219.88 225.03v5.68M127.44 230.7v5.68M140.64 230.7v5.68M206.67 230.7v5.68M219.88 230.7v5.68M127.44 236.38v5.68M140.64 236.38v5.68M219.88 236.38v5.68M180.26 43.42h6.6M186.86 43.42h6.6M193.46 43.42h6.6M200.07 43.42h6.6M206.67 43.42h6.6M259.49 54.78h6.6M147.24 60.45h6.6M266.09 60.45h6.6M246.29 66.12h6.6M252.89 71.8h6.6M134.04 88.83h6.6M140.64 88.83h6.6M147.24 88.83h6.6M206.67 88.83h6.6M272.7 88.83h6.6M120.83 94.5h6.6M127.44 94.5h6.6M41.6 100.18h6.6M140.64 100.18h6.6M147.24 100.18h6.6M153.85 100.18h6.6M160.45 100.18h6.6M180.26 100.18h6.6M48.2 105.85h6.6M120.83 111.53h6.6M213.27 111.53h6.6M180.26 117.2h6.6M167.05 128.55h6.6M186.86 128.55h6.6M193.46 134.23h6.6M200.07 139.9h6.6M193.46 145.58h6.6M206.67 145.58h6.6M213.27 145.58h6.6M48.2 151.25h6.6M173.66 156.93h6.6M180.26 156.93h6.6M186.86 156.93h6.6M193.46 156.93h6.6M200.07 156.93h6.6M206.67 156.93h6.6M213.27 156.93h6.6M219.88 156.93h6.6M226.48 156.93h6.6M54.81 173.95h6.6M41.6 179.63h6.6M48.2 179.63h6.6M61.41 185.3h6.6M68.01 185.3h6.6M160.45 185.3h6.6M41.6 190.98h6.6M140.64 190.98h6.6M147.24 190.98h6.6M153.85 190.98h6.6M259.49 190.98h6.6M266.09 190.98h6.6M272.7 190.98h6.6M48.2 196.65h6.6M54.81 196.65h6.6M74.61 196.65h6.6M81.22 196.65h6.6M87.82 196.65h6.6M94.42 196.65h6.6M101.03 196.65h6.6M107.63 196.65h6.6M120.83 196.65h6.6M127.44 196.65h6.6M134.04 196.65h6.6M173.66 196.65h6.6M114.23 202.33h6.6M153.85 202.33h6.6M160.45 202.33h6.6M167.05 202.33h6.6M87.82 208h6.6M94.42 208h6.6M134.04 208h6.6M140.64 208h6.6M147.24 208h6.6M193.46 236.38h6.6M200.07 236.38h6.6" stroke="#4a4a30" stroke-width="0.7" fill="none" opacity="0.75"/>
<path d="M41.6 139.9H279.3" stroke="#999" stroke-width="0.35" fill="none" opacity="0.3"/>
<path d="M160.45 37.75V242.05" stroke="#3a3a3a" stroke-width="0.5" stroke-dasharray="3.2 0.9 1.2 0.9" fill="none" opacity="0.85"/>
<path d="M41.6 37.75H279.3V242.05" stroke="#a8a8a8" stroke-width="0.8" fill="none"/>
<path d="M41.6 37.75V242.05" stroke="#555" stroke-width="0.7" fill="none"/>
<path d="M41.6 242.05H279.3" stroke="#1a1a1a" stroke-width="1.1" fill="none"/>
<path d="M41.6 242.05v2M41.6 242.05h-3M71.31 242.05v2M41.6 216.51h-3M101.03 242.05v2M41.6 190.98h-3M130.74 242.05v2M41.6 165.44h-3M160.45 242.05v2M41.6 139.9h-3M190.16 242.05v2M41.6 114.36h-3M219.88 242.05v2M41.6 88.83h-3M249.59 242.05v2M41.6 63.29h-3M279.3 242.05v2M41.6 37.75h-3" stroke="#333" stroke-width="0.6" fill="none"/>
<text transform="translate(41.4 250.5) scale(1.16 1)" font-size="7.7" text-anchor="middle">-180</text>
<text transform="translate(71.11 250.5) scale(1.16 1)" font-size="7.7" text-anchor="middle">-135</text>
<text transform="translate(100.83 250.5) scale(1.16 1)" font-size="7.7" text-anchor="middle">-90</text>
<text transform="translate(130.54 250.5) scale(1.16 1)" font-size="7.7" text-anchor="middle">-45</text>
<text transform="translate(160.25 250.5) scale(1.16 1)" font-size="7.7" text-anchor="middle">0</text>
<text transform="translate(189.96 250.5) scale(1.16 1)" font-size="7.7" text-anchor="middle">45</text>
<text transform="translate(219.68 250.5) scale(1.16 1)" font-size="7.7" text-anchor="middle">90</text>
<text transform="translate(249.39 250.5) scale(1.16 1)" font-size="7.7" text-anchor="middle">135</text>
<text transform="translate(279.1 250.5) scale(1.16 1)" font-size="7.7" text-anchor="middle">180</text>
<text transform="translate(36.7 219.31) scale(1.16 1)" font-size="7.35" text-anchor="end">-135</text>
<text transform="translate(36.7 193.78) scale(1.16 1)" font-size="7.35" text-anchor="end">-90</text>
<text transform="translate(36.7 168.24) scale(1.16 1)" font-size="7.35" text-anchor="end">-45</text>
<text transform="translate(36.7 142.7) scale(1.16 1)" font-size="7.35" text-anchor="end">0</text>
<text transform="translate(36.7 117.16) scale(1.16 1)" font-size="7.35" text-anchor="end">45</text>
<text transform="translate(36.7 91.62) scale(1.16 1)" font-size="7.35" text-anchor="end">90</text>
<text transform="translate(36.7 66.09) scale(1.16 1)" font-size="7.35" text-anchor="end">135</text>
<text transform="translate(36.7 40.55) scale(1.16 1)" font-size="7.35" text-anchor="end">180</text>
<text transform="translate(54.5 46.56) scale(1.16 1)" font-size="7.2" text-anchor="middle" class="g">B</text>
<text transform="translate(47.9 68.16) scale(1.16 1)" font-size="7.2" text-anchor="middle" class="g">b</text>
<text transform="translate(54.5 124.92) scale(1.16 1)" font-size="6.4" text-anchor="middle" class="g">a</text>
<text transform="translate(88.2 136.76) scale(1.16 1)" font-size="7.2" text-anchor="middle" class="g">A</text>
<text transform="translate(151.4 149.98) scale(1.16 1)" font-size="4.6" text-anchor="middle" class="g"><tspan dy="1.29">~</tspan><tspan dy="-1.29">a</tspan></text>
<text transform="translate(151.2 67.74) scale(1.16 1)" font-size="4.8" text-anchor="middle" class="g"><tspan dy="1.34">~</tspan><tspan dy="-1.34">b</tspan></text>
<text transform="translate(190.6 78.94) scale(1.16 1)" font-size="4.8" text-anchor="middle" class="g"><tspan dy="1.34">~</tspan><tspan dy="-1.34">l</tspan></text>
<text transform="translate(183.3 96.74) scale(1.16 1)" font-size="5.8" text-anchor="middle" class="g">l</text>
<text transform="translate(195.6 115.4) scale(1.16 1)" font-size="6" text-anchor="middle" class="g">L</text>
<text transform="translate(250 45.04) scale(1.16 1)" font-size="4.8" text-anchor="middle" class="g"><tspan dy="1.34">~</tspan><tspan dy="-1.34">b</tspan></text>
<text transform="translate(272.2 51.4) scale(1.16 1)" font-size="6" text-anchor="middle" class="g">b</text>
<text transform="translate(44.9 214.92) scale(1.16 1)" font-size="4.4" text-anchor="middle" class="g"><tspan dy="1.23">~</tspan><tspan dy="-1.23">b</tspan></text>
<text transform="translate(54.6 226.24) scale(1.16 1)" font-size="4.8" text-anchor="middle" class="g">b</text>
<text transform="translate(263.1 232.18) scale(1.16 1)" font-size="4.6" text-anchor="middle" class="g"><tspan dy="1.29">~</tspan><tspan dy="-1.29">b</tspan></text>
<text transform="translate(197.1 227.44) scale(1.16 1)" font-size="4.8" text-anchor="middle" class="g">p</text>
<text transform="translate(184.6 215.64) scale(1.16 1)" font-size="4.8" text-anchor="middle" class="g"><tspan dy="1.34">~</tspan><tspan dy="-1.34">p</tspan></text>
<path d="M64.27 63.9h2.5v2.2h-2.5zM108.65 60.47h2.5v2.2h-2.5zM62.17 60.26h2.5v2.2h-2.5zM98.31 72.27h2.5v2.2h-2.5zM64.43 50.82h2.5v2.2h-2.5zM102.87 67.75h2.5v2.2h-2.5zM119.43 73.06h2.5v2.2h-2.5zM86.71 60.59h2.5v2.2h-2.5zM73.05 52.72h2.5v2.2h-2.5zM90.66 64.19h2.5v2.2h-2.5zM81.85 61.86h2.5v2.2h-2.5zM94.21 68.77h2.5v2.2h-2.5zM110.69 66.3h2.5v2.2h-2.5zM52.95 65.54h2.5v2.2h-2.5zM60.36 59.28h2.5v2.2h-2.5zM59.27 60.56h2.5v2.2h-2.5zM73.18 63.33h2.5v2.2h-2.5zM105.6 53.87h2.5v2.2h-2.5zM82.99 67.63h2.5v2.2h-2.5zM86.9 65.65h2.5v2.2h-2.5zM90.82 55.18h2.5v2.2h-2.5zM100.02 57.44h2.5v2.2h-2.5zM126.19 61.93h2.5v2.2h-2.5zM102.47 64.02h2.5v2.2h-2.5zM107.8 59.7h2.5v2.2h-2.5zM108.73 63.53h2.5v2.2h-2.5zM114.02 69.81h2.5v2.2h-2.5zM91.58 57.01h2.5v2.2h-2.5zM104.11 67.8h2.5v2.2h-2.5zM121.59 62.57h2.5v2.2h-2.5zM99.85 67.77h2.5v2.2h-2.5zM94.41 64.99h2.5v2.2h-2.5zM92.39 58.5h2.5v2.2h-2.5zM68.46 58.17h2.5v2.2h-2.5zM100.57 75.69h2.5v2.2h-2.5zM108.29 72.72h2.5v2.2h-2.5zM104.3 69.62h2.5v2.2h-2.5zM92.42 69.24h2.5v2.2h-2.5zM124.22 63.17h2.5v2.2h-2.5zM74.87 77.16h2.5v2.2h-2.5zM93.64 70.9h2.5v2.2h-2.5zM106.23 55.39h2.5v2.2h-2.5zM92.29 69.08h2.5v2.2h-2.5zM91.29 56.17h2.5v2.2h-2.5zM86.51 65.65h2.5v2.2h-2.5zM111.07 70.25h2.5v2.2h-2.5zM89.94 73.62h2.5v2.2h-2.5zM73.54 67.9h2.5v2.2h-2.5zM110.99 62.39h2.5v2.2h-2.5zM52.94 52.93h2.5v2.2h-2.5zM93.49 67.42h2.5v2.2h-2.5zM119.71 57.5h2.5v2.2h-2.5zM88.79 67.99h2.5v2.2h-2.5zM85.6 44.07h2.5v2.2h-2.5zM104.88 82.32h2.5v2.2h-2.5zM108.84 57.31h2.5v2.2h-2.5zM80.5 63.98h2.5v2.2h-2.5zM91.02 75.29h2.5v2.2h-2.5zM87.12 77.36h2.5v2.2h-2.5zM75.05 58.08h2.5v2.2h-2.5zM103.17 75.22h2.5v2.2h-2.5zM101.83 66.31h2.5v2.2h-2.5zM52.32 54.4h2.5v2.2h-2.5zM76.54 57.74h2.5v2.2h-2.5zM100.48 61.21h2.5v2.2h-2.5zM104.5 64.81h2.5v2.2h-2.5zM82.09 63.29h2.5v2.2h-2.5zM97.33 70.31h2.5v2.2h-2.5zM79.2 60.31h2.5v2.2h-2.5zM61.48 73.29h2.5v2.2h-2.5zM117.79 63.82h2.5v2.2h-2.5zM79.18 52.45h2.5v2.2h-2.5zM92.15 64.79h2.5v2.2h-2.5zM73.19 42.49h2.5v2.2h-2.5zM116.94 66.64h2.5v2.2h-2.5zM56.56 61.74h2.5v2.2h-2.5zM111.13 69.18h2.5v2.2h-2.5zM85.25 45.84h2.5v2.2h-2.5zM86.22 50.51h2.5v2.2h-2.5zM100.67 47.09h2.5v2.2h-2.5zM70.6 71.01h2.5v2.2h-2.5zM121.63 56.27h2.5v2.2h-2.5zM58.07 67.34h2.5v2.2h-2.5zM105.81 56.53h2.5v2.2h-2.5zM74.86 56.35h2.5v2.2h-2.5zM64.96 55.66h2.5v2.2h-2.5zM113.76 70.31h2.5v2.2h-2.5zM86.04 54.98h2.5v2.2h-2.5zM86.27 52.41h2.5v2.2h-2.5zM53.2 65.52h2.5v2.2h-2.5zM117.55 71.77h2.5v2.2h-2.5zM115.4 67.01h2.5v2.2h-2.5zM74.39 62.43h2.5v2.2h-2.5zM81.27 53.59h2.5v2.2h-2.5zM54.9 48.57h2.5v2.2h-2.5zM88.64 64.07h2.5v2.2h-2.5zM79.26 73.34h2.5v2.2h-2.5zM92.33 67.76h2.5v2.2h-2.5zM113.12 58.42h2.5v2.2h-2.5zM49.35 65.65h2.5v2.2h-2.5zM74.98 72.08h2.5v2.2h-2.5zM95.5 71.33h2.5v2.2h-2.5zM104.02 47.81h2.5v2.2h-2.5zM103.13 58.77h2.5v2.2h-2.5zM73.63 58.28h2.5v2.2h-2.5zM104.11 71.06h2.5v2.2h-2.5zM108.98 51.51h2.5v2.2h-2.5zM76.94 43.33h2.5v2.2h-2.5zM86.71 67.44h2.5v2.2h-2.5zM73.47 63.6h2.5v2.2h-2.5zM93.38 71.17h2.5v2.2h-2.5zM72.32 55.09h2.5v2.2h-2.5zM73.48 75.42h2.5v2.2h-2.5zM110.56 63.68h2.5v2.2h-2.5zM93.26 64.16h2.5v2.2h-2.5zM92.81 61.59h2.5v2.2h-2.5zM82.07 52.51h2.5v2.2h-2.5zM75.91 74.81h2.5v2.2h-2.5zM99.48 64.27h2.5v2.2h-2.5zM84.45 63.05h2.5v2.2h-2.5zM95.82 58.4h2.5v2.2h-2.5zM92.68 65.1h2.5v2.2h-2.5zM73.78 55.52h2.5v2.2h-2.5zM68.77 52.97h2.5v2.2h-2.5zM106.55 45.82h2.5v2.2h-2.5zM83.41 57.68h2.5v2.2h-2.5zM76.35 62.67h2.5v2.2h-2.5zM111.31 65.3h2.5v2.2h-2.5zM85.95 57.87h2.5v2.2h-2.5zM86.17 69.84h2.5v2.2h-2.5zM80.87 53.28h2.5v2.2h-2.5zM63.47 52.2h2.5v2.2h-2.5zM60.95 69.29h2.5v2.2h-2.5zM95.85 61.61h2.5v2.2h-2.5zM117.94 60.08h2.5v2.2h-2.5zM103.81 70.38h2.5v2.2h-2.5zM57.82 48.22h2.5v2.2h-2.5zM70.2 68.52h2.5v2.2h-2.5zM114.67 55.35h2.5v2.2h-2.5zM109.72 61.57h2.5v2.2h-2.5zM80.88 57.95h2.5v2.2h-2.5zM82.27 48.13h2.5v2.2h-2.5zM68.73 51.61h2.5v2.2h-2.5zM98.56 80.06h2.5v2.2h-2.5zM54.32 56.95h2.5v2.2h-2.5zM69.96 76.95h2.5v2.2h-2.5zM100.17 58.1h2.5v2.2h-2.5zM107.47 68.6h2.5v2.2h-2.5zM56.24 56.13h2.5v2.2h-2.5zM83.96 62.67h2.5v2.2h-2.5zM91.39 60.45h2.5v2.2h-2.5zM92.55 58.61h2.5v2.2h-2.5zM70.82 73.35h2.5v2.2h-2.5zM95.96 66.91h2.5v2.2h-2.5zM56.85 59.05h2.5v2.2h-2.5zM105.13 54.09h2.5v2.2h-2.5zM110.71 61.6h2.5v2.2h-2.5zM96.8 62.5h2.5v2.2h-2.5zM93.12 72.68h2.5v2.2h-2.5zM80.68 74.52h2.5v2.2h-2.5zM73.11 54.34h2.5v2.2h-2.5zM102.97 55.68h2.5v2.2h-2.5zM81.34 69.42h2.5v2.2h-2.5zM112.96 50.92h2.5v2.2h-2.5zM98.87 78.48h2.5v2.2h-2.5zM112.65 62.93h2.5v2.2h-2.5zM76.74 59.61h2.5v2.2h-2.5zM65.69 58.98h2.5v2.2h-2.5zM85 61.46h2.5v2.2h-2.5zM112.4 62.99h2.5v2.2h-2.5zM59.59 68.81h2.5v2.2h-2.5zM67.3 57.68h2.5v2.2h-2.5zM86.07 59.99h2.5v2.2h-2.5zM68.69 59.34h2.5v2.2h-2.5zM86.02 71.49h2.5v2.2h-2.5zM103.64 70.08h2.5v2.2h-2.5zM105.99 48.85h2.5v2.2h-2.5zM71.47 62.52h2.5v2.2h-2.5zM98.73 73.85h2.5v2.2h-2.5zM98.14 61.78h2.5v2.2h-2.5zM89.54 61.31h2.5v2.2h-2.5zM93.69 68.58h2.5v2.2h-2.5zM81.95 55.98h2.5v2.2h-2.5zM71.66 70.13h2.5v2.2h-2.5zM114.37 72.73h2.5v2.2h-2.5zM105.89 70.8h2.5v2.2h-2.5zM88.7 68.1h2.5v2.2h-2.5zM67.71 59.62h2.5v2.2h-2.5zM74.08 67.43h2.5v2.2h-2.5zM77.15 61.12h2.5v2.2h-2.5zM96.76 74.16h2.5v2.2h-2.5zM72.91 54.27h2.5v2.2h-2.5zM105.1 55.53h2.5v2.2h-2.5zM97.8 59.15h2.5v2.2h-2.5zM86.64 48.46h2.5v2.2h-2.5zM103.02 60.12h2.5v2.2h-2.5zM70.78 77.75h2.5v2.2h-2.5zM96.91 60.82h2.5v2.2h-2.5zM90.9 75.67h2.5v2.2h-2.5zM88.21 66.39h2.5v2.2h-2.5zM99.08 56.59h2.5v2.2h-2.5zM91.33 59.16h2.5v2.2h-2.5zM63.84 67.74h2.5v2.2h-2.5zM102.06 64.55h2.5v2.2h-2.5zM70.6 45.72h2.5v2.2h-2.5zM98.46 62.91h2.5v2.2h-2.5zM55.07 59.73h2.5v2.2h-2.5zM58.33 60.26h2.5v2.2h-2.5zM91.61 65.91h2.5v2.2h-2.5zM93.09 64.59h2.5v2.2h-2.5zM65.95 58.07h2.5v2.2h-2.5zM78.52 60.23h2.5v2.2h-2.5zM94.15 68.19h2.5v2.2h-2.5zM121.45 45.38h2.5v2.2h-2.5zM96.77 61.99h2.5v2.2h-2.5zM55.69 63.4h2.5v2.2h-2.5zM78.34 69.86h2.5v2.2h-2.5zM67.64 60.41h2.5v2.2h-2.5zM86.12 61.93h2.5v2.2h-2.5zM77.07 47.56h2.5v2.2h-2.5zM97.96 71.47h2.5v2.2h-2.5zM87.38 54.82h2.5v2.2h-2.5zM92.81 67.66h2.5v2.2h-2.5zM85.24 62.51h2.5v2.2h-2.5zM116.92 56.38h2.5v2.2h-2.5zM77.59 47.07h2.5v2.2h-2.5zM74.75 55.98h2.5v2.2h-2.5zM69.55 55.92h2.5v2.2h-2.5zM124.69 64.24h2.5v2.2h-2.5zM86.47 79.95h2.5v2.2h-2.5zM87.54 49.21h2.5v2.2h-2.5zM96.81 56.2h2.5v2.2h-2.5zM121.53 55.75h2.5v2.2h-2.5zM77.14 49.38h2.5v2.2h-2.5zM90.7 55.09h2.5v2.2h-2.5zM87.44 59.84h2.5v2.2h-2.5zM76.49 69.31h2.5v2.2h-2.5zM107.46 64.89h2.5v2.2h-2.5zM70.74 53.07h2.5v2.2h-2.5zM94.15 82.08h2.5v2.2h-2.5zM79.61 56.02h2.5v2.2h-2.5zM74.8 53.2h2.5v2.2h-2.5zM69.31 59.74h2.5v2.2h-2.5zM117.43 65.19h2.5v2.2h-2.5zM78.54 49.42h2.5v2.2h-2.5zM93.01 63.03h2.5v2.2h-2.5zM64.22 52.42h2.5v2.2h-2.5zM87.91 70.77h2.5v2.2h-2.5zM101.28 65.51h2.5v2.2h-2.5zM82.28 64.9h2.5v2.2h-2.5zM88.51 79.92h2.5v2.2h-2.5zM66.1 58.2h2.5v2.2h-2.5zM114.11 62.85h2.5v2.2h-2.5zM117.25 64.84h2.5v2.2h-2.5zM91.66 60.23h2.5v2.2h-2.5zM61.14 53.08h2.5v2.2h-2.5zM100.87 71.35h2.5v2.2h-2.5zM100.13 71.82h2.5v2.2h-2.5zM83.43 60.72h2.5v2.2h-2.5zM108.43 61.71h2.5v2.2h-2.5zM62.14 59h2.5v2.2h-2.5zM77.85 66.84h2.5v2.2h-2.5zM74.35 53.43h2.5v2.2h-2.5zM82.11 74.54h2.5v2.2h-2.5zM87.79 64.09h2.5v2.2h-2.5zM88.93 65.23h2.5v2.2h-2.5zM107.32 75.33h2.5v2.2h-2.5zM55.86 70.94h2.5v2.2h-2.5zM88.68 60.38h2.5v2.2h-2.5zM127.65 73.6h2.5v2.2h-2.5zM93.48 67.26h2.5v2.2h-2.5zM109.38 66.02h2.5v2.2h-2.5zM81.8 61.89h2.5v2.2h-2.5zM101.03 60.28h2.5v2.2h-2.5zM119.18 66.53h2.5v2.2h-2.5zM99.21 64.04h2.5v2.2h-2.5zM95.7 61.31h2.5v2.2h-2.5zM103.59 67.53h2.5v2.2h-2.5zM98.18 64.95h2.5v2.2h-2.5zM90.24 67.07h2.5v2.2h-2.5zM96 66.2h2.5v2.2h-2.5zM94.59 62.47h2.5v2.2h-2.5zM104.69 60.18h2.5v2.2h-2.5zM124.98 68.19h2.5v2.2h-2.5zM102.1 62.23h2.5v2.2h-2.5zM117.1 74.28h2.5v2.2h-2.5zM105.45 59.5h2.5v2.2h-2.5zM98.21 68.41h2.5v2.2h-2.5zM98.14 59.59h2.5v2.2h-2.5zM92.06 60.93h2.5v2.2h-2.5zM78.15 38.43h2.5v2.2h-2.5zM83.42 38.43h2.5v2.2h-2.5zM86.06 38.83h2.5v2.2h-2.5zM61.02 42.39h2.5v2.2h-2.5zM59.05 43.18h2.5v2.2h-2.5zM108.46 37.51h2.5v2.2h-2.5zM111.09 36.59h2.5v2.2h-2.5zM105.16 42.78h2.5v2.2h-2.5zM86.06 44.49h2.5v2.2h-2.5zM90.01 46.73h2.5v2.2h-2.5zM64.98 46.73h2.5v2.2h-2.5zM48.51 53.32h2.5v2.2h-2.5zM97.91 44.1h2.5v2.2h-2.5zM95.28 46.08h2.5v2.2h-2.5zM96.6 47.39h2.5v2.2h-2.5zM98.57 49.37h2.5v2.2h-2.5zM110.48 37.12h2.5v2.2h-2.5zM108.51 38.83h2.5v2.2h-2.5zM106.53 42.12h2.5v2.2h-2.5zM122.34 52.4h2.5v2.2h-2.5zM126.29 52.93h2.5v2.2h-2.5zM124.98 57.27h2.5v2.2h-2.5zM126.95 61.23h2.5v2.2h-2.5zM137.49 64.26h2.5v2.2h-2.5zM128.93 68.21h2.5v2.2h-2.5zM124.98 73.08h2.5v2.2h-2.5zM121.02 74.01h2.5v2.2h-2.5zM120.37 84.02h2.5v2.2h-2.5zM124.32 86.65h2.5v2.2h-2.5zM113.78 84.28h2.5v2.2h-2.5zM116.41 85.86h2.5v2.2h-2.5zM107.85 83.62h2.5v2.2h-2.5zM100.29 88.83h2.5v2.2h-2.5zM91.33 93.44h2.5v2.2h-2.5zM109.11 95.68h2.5v2.2h-2.5zM116.36 89.49h2.5v2.2h-2.5zM70.64 104.64h2.5v2.2h-2.5zM69.59 109.25h2.5v2.2h-2.5zM68.53 110.83h2.5v2.2h-2.5zM65.9 114.52h2.5v2.2h-2.5zM105.56 106.22h2.5v2.2h-2.5zM96.99 122.03h2.5v2.2h-2.5zM107.8 84.22h2.5v2.2h-2.5zM113.73 84.48h2.5v2.2h-2.5zM117.02 85.54h2.5v2.2h-2.5zM120.97 84.22h2.5v2.2h-2.5zM124.27 86.85h2.5v2.2h-2.5zM88.69 124.8h2.5v2.2h-2.5zM88.69 127.7h2.5v2.2h-2.5zM81.45 129.01h2.5v2.2h-2.5zM84.74 129.01h2.5v2.2h-2.5zM76.18 133.62h2.5v2.2h-2.5zM70.91 137.58h2.5v2.2h-2.5zM118.39 160.59h2.5v2.2h-2.5zM118.4 168.65h2.5v2.2h-2.5zM122.96 161.22h2.5v2.2h-2.5zM119.24 162.6h2.5v2.2h-2.5zM117.99 164.42h2.5v2.2h-2.5zM117.49 161.05h2.5v2.2h-2.5zM117.38 161.54h2.5v2.2h-2.5zM121.69 165.04h2.5v2.2h-2.5zM114.86 159.89h2.5v2.2h-2.5zM116.28 163.31h2.5v2.2h-2.5zM118.93 164.38h2.5v2.2h-2.5zM118.19 157.58h2.5v2.2h-2.5zM119.52 163.03h2.5v2.2h-2.5zM119.67 159.49h2.5v2.2h-2.5zM118.56 160.56h2.5v2.2h-2.5zM116.56 162.33h2.5v2.2h-2.5zM119.27 160.32h2.5v2.2h-2.5zM113.9 154.81h2.5v2.2h-2.5zM116.85 164.23h2.5v2.2h-2.5zM118.21 156.78h2.5v2.2h-2.5zM116.11 162.33h2.5v2.2h-2.5zM122.7 166.3h2.5v2.2h-2.5zM119.3 162.88h2.5v2.2h-2.5zM115.6 160.11h2.5v2.2h-2.5zM117.48 160h2.5v2.2h-2.5zM118.52 161.24h2.5v2.2h-2.5zM119.23 165.75h2.5v2.2h-2.5zM120.28 163.73h2.5v2.2h-2.5zM117.72 158.33h2.5v2.2h-2.5zM118.05 163.27h2.5v2.2h-2.5zM115.73 164.15h2.5v2.2h-2.5zM117.48 162.68h2.5v2.2h-2.5zM117.5 158.87h2.5v2.2h-2.5zM123.73 161.19h2.5v2.2h-2.5zM120.74 161.6h2.5v2.2h-2.5zM119.08 160.46h2.5v2.2h-2.5zM117.27 163.89h2.5v2.2h-2.5zM123.41 161.82h2.5v2.2h-2.5zM118.38 164.33h2.5v2.2h-2.5zM116.71 163.21h2.5v2.2h-2.5zM116.31 162.83h2.5v2.2h-2.5zM119.49 165.32h2.5v2.2h-2.5zM119.3 159.62h2.5v2.2h-2.5zM120.08 160.1h2.5v2.2h-2.5zM120.3 166.29h2.5v2.2h-2.5zM119.9 161.33h2.5v2.2h-2.5zM121.45 163.54h2.5v2.2h-2.5zM115.11 160.18h2.5v2.2h-2.5zM122.04 162.63h2.5v2.2h-2.5zM118.67 161.4h2.5v2.2h-2.5zM113.97 159.43h2.5v2.2h-2.5zM119.28 162.9h2.5v2.2h-2.5zM117.9 156.95h2.5v2.2h-2.5zM121.53 164.85h2.5v2.2h-2.5zM121.01 166.04h2.5v2.2h-2.5zM117.19 160.3h2.5v2.2h-2.5zM119.17 166.29h2.5v2.2h-2.5zM113.97 160.09h2.5v2.2h-2.5zM116.49 162.78h2.5v2.2h-2.5zM122.16 162.69h2.5v2.2h-2.5zM115.12 161.13h2.5v2.2h-2.5zM117.61 158.24h2.5v2.2h-2.5zM120.65 161.65h2.5v2.2h-2.5zM120.13 159.62h2.5v2.2h-2.5zM121.2 159.68h2.5v2.2h-2.5zM121.09 158.78h2.5v2.2h-2.5zM121.94 162.43h2.5v2.2h-2.5zM114.3 160.19h2.5v2.2h-2.5zM119.23 160.08h2.5v2.2h-2.5zM117.07 162.3h2.5v2.2h-2.5zM117.91 154.77h2.5v2.2h-2.5zM117.23 162.72h2.5v2.2h-2.5zM119.12 164.72h2.5v2.2h-2.5zM116.56 167.48h2.5v2.2h-2.5zM120.43 163.53h2.5v2.2h-2.5zM121.17 165.28h2.5v2.2h-2.5zM118.62 160.74h2.5v2.2h-2.5zM121.01 163.99h2.5v2.2h-2.5zM113.43 157.86h2.5v2.2h-2.5zM119.56 162.76h2.5v2.2h-2.5zM119.08 163.85h2.5v2.2h-2.5zM118.73 165.93h2.5v2.2h-2.5zM116.82 160.65h2.5v2.2h-2.5zM119.19 164.13h2.5v2.2h-2.5zM120.4 166.27h2.5v2.2h-2.5zM117.11 164.42h2.5v2.2h-2.5zM119.57 160.07h2.5v2.2h-2.5zM117.99 166.86h2.5v2.2h-2.5zM120.39 161.69h2.5v2.2h-2.5zM112.11 158.28h2.5v2.2h-2.5zM116.52 161.67h2.5v2.2h-2.5zM124.36 165.87h2.5v2.2h-2.5zM119.16 160.18h2.5v2.2h-2.5zM115.27 160.58h2.5v2.2h-2.5zM117.13 168.73h2.5v2.2h-2.5zM117.3 160.3h2.5v2.2h-2.5zM121.28 163.27h2.5v2.2h-2.5zM115.14 164.04h2.5v2.2h-2.5zM117.54 158.71h2.5v2.2h-2.5zM119.19 163.52h2.5v2.2h-2.5zM100.87 148.17h2.5v2.2h-2.5zM113.68 151.36h2.5v2.2h-2.5zM96.59 127.43h2.5v2.2h-2.5zM100.98 151.15h2.5v2.2h-2.5zM108.86 159.29h2.5v2.2h-2.5zM118.87 161.01h2.5v2.2h-2.5zM117.16 151.05h2.5v2.2h-2.5zM109.26 154.22h2.5v2.2h-2.5zM105.75 146.46h2.5v2.2h-2.5zM96.66 141.26h2.5v2.2h-2.5zM115.65 155.97h2.5v2.2h-2.5zM110.96 150.04h2.5v2.2h-2.5zM109.85 147.15h2.5v2.2h-2.5zM108.63 150.32h2.5v2.2h-2.5zM109.21 148.75h2.5v2.2h-2.5zM97.48 139.47h2.5v2.2h-2.5zM108.6 160.07h2.5v2.2h-2.5zM100.7 148.56h2.5v2.2h-2.5zM109.77 154.69h2.5v2.2h-2.5zM92.95 138.85h2.5v2.2h-2.5zM94.93 145.3h2.5v2.2h-2.5zM109.38 155.55h2.5v2.2h-2.5zM84.9 133.06h2.5v2.2h-2.5zM113.86 149.38h2.5v2.2h-2.5zM112.19 155.19h2.5v2.2h-2.5zM105.83 145.06h2.5v2.2h-2.5zM98.93 140.23h2.5v2.2h-2.5zM127.41 169.89h2.5v2.2h-2.5zM108.54 147.9h2.5v2.2h-2.5zM102.2 142.59h2.5v2.2h-2.5zM96.36 144.98h2.5v2.2h-2.5zM100.91 149.12h2.5v2.2h-2.5zM94.23 143.31h2.5v2.2h-2.5zM103.24 150.18h2.5v2.2h-2.5zM106.89 145.08h2.5v2.2h-2.5zM115.34 155.31h2.5v2.2h-2.5zM106.57 144.8h2.5v2.2h-2.5zM107.81 148.64h2.5v2.2h-2.5zM106.39 151.32h2.5v2.2h-2.5zM104 139.58h2.5v2.2h-2.5zM105.95 154.03h2.5v2.2h-2.5zM113.48 149.74h2.5v2.2h-2.5zM108.66 153.63h2.5v2.2h-2.5zM106.18 151.59h2.5v2.2h-2.5zM102.29 146.84h2.5v2.2h-2.5zM113.44 153.19h2.5v2.2h-2.5zM94.94 138.34h2.5v2.2h-2.5zM111.69 144.3h2.5v2.2h-2.5zM98.67 145.55h2.5v2.2h-2.5zM103.89 147.66h2.5v2.2h-2.5zM93.53 142.54h2.5v2.2h-2.5zM118.7 159.69h2.5v2.2h-2.5zM103 140.03h2.5v2.2h-2.5zM111.52 154.74h2.5v2.2h-2.5zM96.12 146.6h2.5v2.2h-2.5zM109.24 155.35h2.5v2.2h-2.5zM92.58 136.18h2.5v2.2h-2.5zM113.17 149.03h2.5v2.2h-2.5zM108.21 158.9h2.5v2.2h-2.5zM114.81 153.27h2.5v2.2h-2.5zM97.49 146.38h2.5v2.2h-2.5zM109.24 158.75h2.5v2.2h-2.5zM114.36 156.23h2.5v2.2h-2.5zM107.26 140.16h2.5v2.2h-2.5zM104.86 160.41h2.5v2.2h-2.5zM103.13 143.86h2.5v2.2h-2.5zM109.01 153.89h2.5v2.2h-2.5zM97.1 137.02h2.5v2.2h-2.5zM91.7 146.92h2.5v2.2h-2.5zM97.66 146.06h2.5v2.2h-2.5zM114.23 166.96h2.5v2.2h-2.5zM111.33 162.85h2.5v2.2h-2.5zM97.09 139.02h2.5v2.2h-2.5zM100.68 142.62h2.5v2.2h-2.5zM129.09 161.2h2.5v2.2h-2.5zM112.71 148.54h2.5v2.2h-2.5zM111.58 161.29h2.5v2.2h-2.5zM95.88 151.03h2.5v2.2h-2.5zM102.27 152.74h2.5v2.2h-2.5zM109.06 148.86h2.5v2.2h-2.5zM102.77 145.48h2.5v2.2h-2.5zM109.45 152.95h2.5v2.2h-2.5zM123.14 163.81h2.5v2.2h-2.5zM103.76 143.12h2.5v2.2h-2.5zM103.43 138.9h2.5v2.2h-2.5zM95.54 144.4h2.5v2.2h-2.5zM106.16 148.3h2.5v2.2h-2.5zM104.94 153.91h2.5v2.2h-2.5zM107.69 154.84h2.5v2.2h-2.5zM101.84 143.84h2.5v2.2h-2.5zM99.8 142.86h2.5v2.2h-2.5zM100.24 141.77h2.5v2.2h-2.5zM104.55 146.58h2.5v2.2h-2.5zM104.62 145.15h2.5v2.2h-2.5zM115.82 156.26h2.5v2.2h-2.5zM97.28 142.12h2.5v2.2h-2.5zM100.14 137.87h2.5v2.2h-2.5zM110.38 144.06h2.5v2.2h-2.5zM80.77 127.45h2.5v2.2h-2.5zM117.39 150.49h2.5v2.2h-2.5zM97.08 144.02h2.5v2.2h-2.5zM92.99 132.37h2.5v2.2h-2.5zM96.93 139.67h2.5v2.2h-2.5zM88.31 137.68h2.5v2.2h-2.5zM103.37 148.32h2.5v2.2h-2.5zM108.58 139.93h2.5v2.2h-2.5zM107.76 143.42h2.5v2.2h-2.5zM107.63 145.96h2.5v2.2h-2.5zM103.49 145.64h2.5v2.2h-2.5zM108.86 155.89h2.5v2.2h-2.5zM97.9 141.55h2.5v2.2h-2.5zM114.65 159.74h2.5v2.2h-2.5zM100.21 143.11h2.5v2.2h-2.5zM100.14 148.82h2.5v2.2h-2.5zM104.48 149.73h2.5v2.2h-2.5zM125.26 159.31h2.5v2.2h-2.5zM102.48 136.44h2.5v2.2h-2.5zM91.21 140.14h2.5v2.2h-2.5zM102.98 155.18h2.5v2.2h-2.5zM93.1 132.44h2.5v2.2h-2.5zM113.09 161.2h2.5v2.2h-2.5zM109.4 156.96h2.5v2.2h-2.5zM105.52 148.59h2.5v2.2h-2.5zM103.2 151.1h2.5v2.2h-2.5zM103.18 148.24h2.5v2.2h-2.5zM119 154.93h2.5v2.2h-2.5zM98.2 144.99h2.5v2.2h-2.5zM103.74 146.16h2.5v2.2h-2.5zM119.57 163.83h2.5v2.2h-2.5zM99.2 148.81h2.5v2.2h-2.5zM126.78 162.18h2.5v2.2h-2.5zM100 144.21h2.5v2.2h-2.5zM94.69 150.49h2.5v2.2h-2.5zM110.2 150.79h2.5v2.2h-2.5zM111.02 149.38h2.5v2.2h-2.5zM100.51 144.61h2.5v2.2h-2.5zM128.92 157.94h2.5v2.2h-2.5zM104.68 155.22h2.5v2.2h-2.5zM105.49 159.07h2.5v2.2h-2.5zM108.17 151.88h2.5v2.2h-2.5zM70.6 137.66h2.5v2.2h-2.5zM75.21 133.44h2.5v2.2h-2.5zM74.56 138.71h2.5v2.2h-2.5zM77.19 146.35h2.5v2.2h-2.5zM83.78 165.06h2.5v2.2h-2.5zM87.73 156.89h2.5v2.2h-2.5zM79.83 128.83h2.5v2.2h-2.5zM89.05 124.88h2.5v2.2h-2.5zM96.29 122.9h2.5v2.2h-2.5zM191.17 106.62h2.5v2.2h-2.5zM188.01 112.15h2.5v2.2h-2.5zM195.52 113.47h2.5v2.2h-2.5zM196.18 115.84h2.5v2.2h-2.5zM194.2 118.74h2.5v2.2h-2.5zM200.13 118.47h2.5v2.2h-2.5zM198.15 123.74h2.5v2.2h-2.5zM198.81 125.72h2.5v2.2h-2.5zM277.15 45.3h2.5v2.2h-2.5zM111.65 239.43h2.5v2.2h-2.5z" fill="#000"/>
<path d="M212.58 123.38l1.3 2.1h-2.6zM216.53 126.28l1.3 2.1h-2.6zM207.97 128.91l1.3 2.1h-2.6zM209.94 131.55l1.3 2.1h-2.6zM213.89 129.18l1.3 2.1h-2.6zM210.6 135.24l1.3 2.1h-2.6zM215.87 135.24l1.3 2.1h-2.6zM219.82 132.87l1.3 2.1h-2.6zM222.46 136.55l1.3 2.1h-2.6zM226.81 134.84l1.3 2.1h-2.6zM199.76 124.78l1.3 2.1h-2.6zM207.66 128.73l1.3 2.1h-2.6zM209.64 131.36l1.3 2.1h-2.6zM210.96 135.32l1.3 2.1h-2.6zM215.57 135.32l1.3 2.1h-2.6zM212.27 139.27l1.3 2.1h-2.6zM220.18 132.68l1.3 2.1h-2.6zM222.81 136.63l1.3 2.1h-2.6zM224.13 139.66l1.3 2.1h-2.6zM223.47 142.83l1.3 2.1h-2.6zM227.03 135.05l1.3 2.1h-2.6zM218.2 143.88l1.3 2.1h-2.6zM47.08 229.62l1.3 2.1h-2.6zM48.84 233.5l1.3 2.1h-2.6zM46.72 235.62l1.3 2.1h-2.6zM97.01 222.56l1.3 2.1h-2.6zM215.8 215.9l1.3 2.1h-2.6zM201.7 223.4l1.3 2.1h-2.6zM214.7 238.4l1.3 2.1h-2.6zM211.7 40.3l1.3 2.1h-2.6zM218.8 61.4l1.3 2.1h-2.6zM254.9 42l1.3 2.1h-2.6z" fill="#111"/>
<path d="M161.9 65.5h2.4v2h-2.4zM268.4 162.6h2.4v2h-2.4zM77.6 198.8h2.4v2h-2.4zM196.9 197.2h2.4v2h-2.4z" fill="#e8141e"/>
<text transform="translate(163.8 64.6) scale(1.16 1)" font-size="5" text-anchor="middle" class="r">GLU 645 (A)</text>
<text transform="translate(269.7 162.4) scale(1.16 1)" font-size="5" text-anchor="middle" class="r">GLN 530 (A)</text>
<text transform="translate(78.8 198) scale(1.16 1)" font-size="5" text-anchor="middle" class="r">LYS 580 (A)</text>
<text transform="translate(198.3 196.8) scale(1.16 1)" font-size="5" text-anchor="middle" class="r">LYS 123 (A)</text>
<text transform="translate(16.9 141.2) scale(1.16 1) rotate(-90)" font-size="7.43" text-anchor="middle">Psi (degrees)</text>
<text transform="translate(160.8 260.3) scale(1.16 1)" font-size="7.63" text-anchor="middle">Phi (degrees)</text>
<text transform="translate(160.3 270.5) scale(1.16 1)" font-size="6.03" text-anchor="middle" class="s">Plot statistics</text>
<text transform="translate(71 280.1) scale(1.16 1)" font-size="4.55" class="s">Residues in most favoured regions  [A,B,L]</text>
<text transform="translate(224.2 280.1) scale(1.16 1)" font-size="4.55" text-anchor="end" class="s">537</text>
<text transform="translate(248.4 280.1) scale(1.16 1)" font-size="4.55" text-anchor="end" class="s">93.4%</text>
<text transform="translate(71 285.2) scale(1.16 1)" font-size="4.55" class="s">Residues in additional allowed regions  [a,b,l,p]</text>
<text transform="translate(224.2 285.2) scale(1.16 1)" font-size="4.55" text-anchor="end" class="s">35</text>
<text transform="translate(248.4 285.2) scale(1.16 1)" font-size="4.55" text-anchor="end" class="s">6.1%</text>
<text transform="translate(71 290.4) scale(1.16 1)" font-size="4.55" class="s">Residues in generously allowed regions  [~a,~b,~l,~p]</text>
<text transform="translate(224.2 290.4) scale(1.16 1)" font-size="4.55" text-anchor="end" class="s">2</text>
<text transform="translate(248.4 290.4) scale(1.16 1)" font-size="4.55" text-anchor="end" class="s">0.3%</text>
<text transform="translate(71 295.5) scale(1.16 1)" font-size="4.55" class="s">Residues in disallowed regions</text>
<text transform="translate(224.2 295.5) scale(1.16 1)" font-size="4.55" text-anchor="end" class="s">1</text>
<text transform="translate(248.4 295.5) scale(1.16 1)" font-size="4.55" text-anchor="end" class="s">0.2%</text>
<text transform="translate(224.2 299.6) scale(1.16 1)" font-size="4.55" text-anchor="end" class="s">----</text>
<text transform="translate(248.4 299.6) scale(1.16 1)" font-size="4.55" text-anchor="end" class="s">------</text>
<text transform="translate(71 306) scale(1.16 1)" font-size="4.55" class="s">Number of non-glycine and non-proline residues</text>
<text transform="translate(224.2 306) scale(1.16 1)" font-size="4.55" text-anchor="end" class="s">575</text>
<text transform="translate(248.4 306) scale(1.16 1)" font-size="4.55" text-anchor="end" class="s">100.0%</text>
<text transform="translate(71 313.1) scale(1.16 1)" font-size="4.55" class="s">Number of end-residues (excl. Gly and Pro)</text>
<text transform="translate(224.2 313.1) scale(1.16 1)" font-size="4.55" text-anchor="end" class="s">2</text>
<text transform="translate(71 320.8) scale(1.16 1)" font-size="4.55" class="s">Number of glycine residues (shown as triangles)</text>
<text transform="translate(224.2 320.8) scale(1.16 1)" font-size="4.55" text-anchor="end" class="s">50</text>
<text transform="translate(71 326) scale(1.16 1)" font-size="4.55" class="s">Number of proline residues</text>
<text transform="translate(224.2 326) scale(1.16 1)" font-size="4.55" text-anchor="end" class="s">27</text>
<text transform="translate(224.2 330.6) scale(1.16 1)" font-size="4.55" text-anchor="end" class="s">----</text>
<text transform="translate(71 336.6) scale(1.16 1)" font-size="4.55" class="s">Total number of residues</text>
<text transform="translate(224.2 336.6) scale(1.16 1)" font-size="4.55" text-anchor="end" class="s">654</text>
<text transform="translate(160.5 352.2) scale(1.16 1)" font-size="4.08" text-anchor="middle" class="s">Based on an analysis of 118 structures of resolution of at least 2.0 Angstroms</text>
<text transform="translate(160.5 357) scale(1.16 1)" font-size="4.08" text-anchor="middle" class="s">and R-factor no greater than 20%, a good quality model would be expected</text>
<text transform="translate(160.7 361.9) scale(1.16 1)" font-size="4.08" text-anchor="middle" class="s">to have over 90% in the most favoured regions.</text>
<text transform="translate(1 381.9) scale(1.3 1)" font-size="4.6" class="s">saves_01.ps</text>
</g>
<text class="big" x="104" y="420.1" font-size="18.3" text-anchor="middle">(A)</text>
<text class="big" x="488" y="420.1" font-size="18.3" text-anchor="middle">(B)</text>
</g>
</svg>
</body></html>
